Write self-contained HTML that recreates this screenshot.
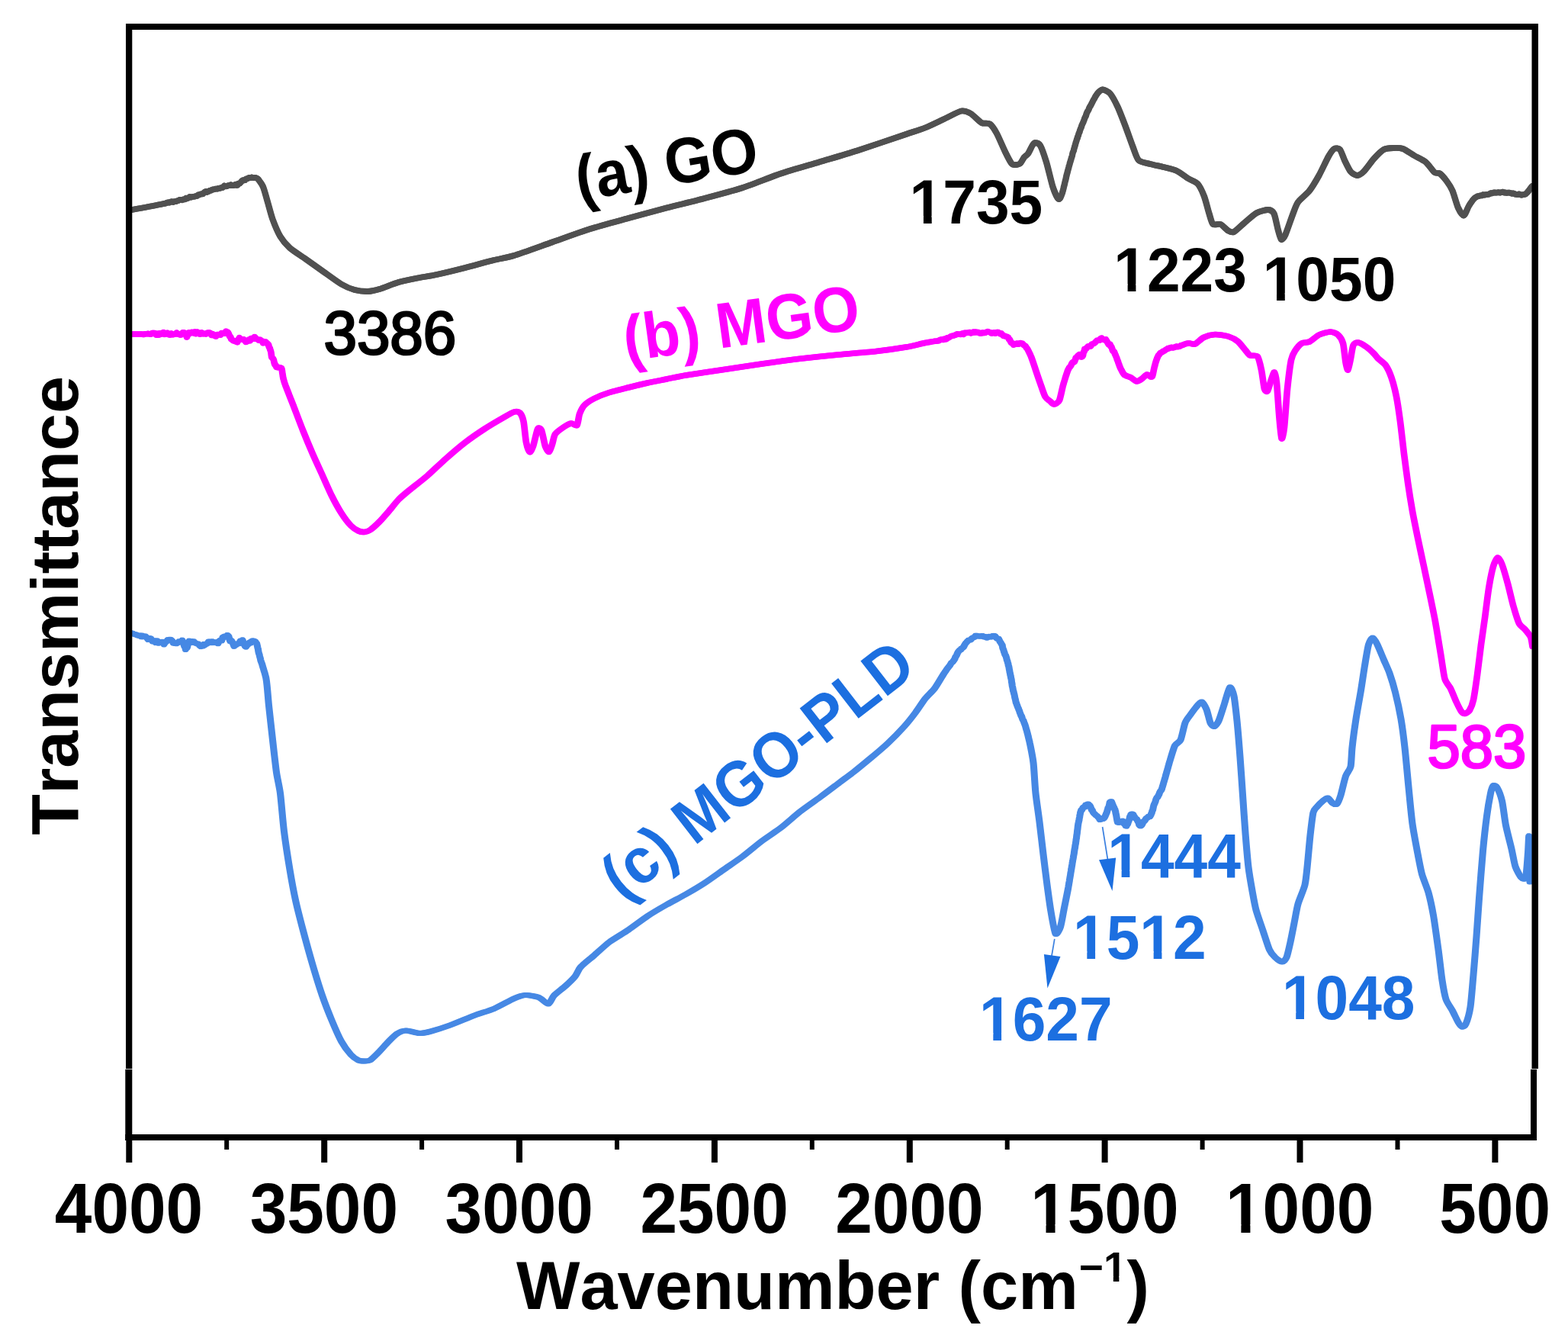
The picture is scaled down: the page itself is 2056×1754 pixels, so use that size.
<!DOCTYPE html>
<html lang="en"><head><meta charset="utf-8"><title>FTIR spectra</title>
<style>html,body{margin:0;padding:0;background:#fff;}body{width:2056px;height:1754px;overflow:hidden;}svg{display:block;}text{font-family:'Liberation Sans', Arial, Helvetica, sans-serif;font-kerning:none;}</style>
</head><body>
<svg width="2056" height="1754" viewBox="0 0 2056 1754">
<rect x="0" y="0" width="2056" height="1754" fill="#ffffff"/>
<defs><clipPath id="plot"><rect x="172.3" y="39.0" width="1837.2" height="1448.0"/></clipPath></defs>
<g clip-path="url(#plot)" fill="none" stroke-linejoin="round" stroke-linecap="round">
<path transform="translate(-0.3 0)" d="M173.0 275.0C177.4 274.2 201.4 269.8 210.0 268.0L211.2 267.8L212.5 267.5L213.9 267.2L215.3 266.9L216.9 266.6L218.5 266.0L220.1 265.3L221.8 265.6L223.5 264.8L225.3 264.2L227.0 265.0L228.8 264.1L230.5 264.2L232.3 263.3L234.0 263.0L235.6 261.8L237.2 262.0L238.7 262.3L240.2 261.5L241.5 261.4L242.8 261.1L244.0 259.7L245.0 260.3L246.2 259.9L247.6 259.0L249.0 257.9L250.4 258.7L252.0 258.0L253.5 257.8L255.1 257.7L256.8 257.0L258.4 256.8L260.0 255.4L261.6 255.3L263.2 254.3L264.7 254.4L266.2 254.1L267.7 252.2L269.0 251.4L270.3 250.9L271.4 251.9L272.5 251.1L273.7 250.9L275.0 249.9L276.5 249.6L278.0 248.9L279.7 248.3L281.3 248.1L283.1 247.6L284.8 247.7L286.5 246.9L288.2 246.8L289.9 246.2L291.5 246.0L292.9 245.0L294.3 243.5L295.5 244.0L296.6 244.3L297.5 244.1L299.2 243.2L301.0 243.2L302.7 242.3L304.4 243.2L306.0 243.1L307.5 242.5L308.9 241.8L310.0 242.8L311.3 242.9L312.7 240.7L314.3 240.4L315.9 238.8L317.4 237.0L318.8 236.1L320.0 236.3L321.3 236.2L322.9 234.3L324.7 234.2L326.6 232.8L328.3 233.2L329.9 232.5L331.0 232.9L332.7 233.1L334.4 232.8L336.1 233.4L337.5 234.0L338.2 234.6L339.2 235.8L340.2 237.2L341.3 238.7L342.4 240.3L343.4 241.9L344.3 243.5L345.0 245.0C346.6 248.7 349.5 259.9 351.0 265.0C352.5 270.1 355.5 282.1 357.5 287.5C359.5 292.9 364.8 305.5 367.5 310.0C370.2 314.5 376.1 321.5 380.0 325.0C383.9 328.5 394.9 335.4 400.0 339.0C405.1 342.6 416.8 351.0 422.5 355.0C428.2 359.0 442.4 369.5 447.5 372.5C452.6 375.5 460.8 378.9 465.0 380.0C469.2 381.1 478.6 382.1 482.5 382.0C486.4 381.9 492.7 380.4 497.5 379.0C502.3 377.6 516.5 371.7 522.5 370.0C528.5 368.3 541.5 365.7 547.5 364.5C553.5 363.3 565.0 361.6 572.5 360.0C580.0 358.4 601.0 353.3 610.0 351.0C619.0 348.7 639.8 342.9 647.5 341.0C655.2 339.1 664.8 337.8 674.0 335.0C683.2 332.2 712.0 321.7 724.0 317.5C736.0 313.3 762.0 303.8 774.0 300.0C786.0 296.2 812.0 289.3 824.0 286.0C836.0 282.7 862.0 275.6 874.0 272.5C886.0 269.4 912.0 263.2 924.0 260.0C936.0 256.8 962.0 249.9 974.0 246.0C986.0 242.1 1012.0 231.5 1024.0 227.5C1036.0 223.5 1062.0 216.1 1074.0 212.5C1086.0 208.9 1110.3 201.9 1124.0 197.5C1137.7 193.1 1177.3 179.6 1188.0 176.0C1198.7 172.4 1207.0 169.9 1213.0 167.5C1219.0 165.1 1232.3 158.6 1238.0 156.0C1243.7 153.4 1256.3 146.3 1260.5 145.5C1264.7 144.7 1269.8 147.1 1273.0 149.0C1276.2 150.9 1284.0 159.4 1287.0 161.0C1290.0 162.6 1295.6 160.8 1298.0 162.5C1300.4 164.2 1304.6 170.6 1307.0 175.0C1309.4 179.4 1315.7 194.3 1318.0 199.0C1320.3 203.7 1324.8 212.5 1326.5 214.5C1328.2 216.5 1330.6 216.1 1332.0 216.0C1333.4 215.9 1336.7 215.2 1338.0 214.0C1339.3 212.8 1341.8 207.5 1343.0 206.0C1344.2 204.5 1346.7 203.3 1348.0 201.5C1349.3 199.7 1352.4 192.7 1353.5 191.0C1354.6 189.3 1355.7 187.2 1357.0 187.2C1358.3 187.2 1362.2 187.7 1364.0 190.7C1365.8 193.7 1370.0 206.0 1372.0 212.5C1374.0 219.0 1378.6 239.2 1380.5 245.0C1382.4 250.8 1386.5 260.1 1388.0 261.0C1389.5 261.9 1391.5 257.1 1393.0 252.5L1393.2 251.7L1393.5 250.8L1393.8 249.7L1394.1 248.4L1394.5 247.1L1394.8 245.6L1395.2 244.1L1395.6 242.5L1396.0 240.8L1396.4 239.0L1396.8 237.3L1397.3 235.6L1397.7 233.8L1398.1 231.9L1398.5 230.3L1398.9 228.4L1399.4 226.8L1399.7 225.5L1400.1 223.9L1400.5 222.6L1400.8 221.3L1401.1 220.3L1401.4 219.3L1401.7 217.7L1402.1 216.7L1402.5 215.4L1402.9 213.5L1403.4 212.3L1403.8 210.7L1404.3 209.2L1404.8 207.3L1405.3 205.9L1405.8 204.3L1406.3 201.8L1406.8 199.8L1407.3 198.7L1407.8 197.6L1408.3 195.2L1408.8 193.6L1409.3 192.1L1409.8 190.2L1410.2 188.6L1410.7 187.0L1411.1 185.6L1411.5 184.6L1411.9 183.0L1412.3 181.9L1412.7 181.2L1413.0 179.5L1413.4 178.7L1413.9 177.7L1414.3 176.0L1414.8 174.3L1415.4 173.4L1415.9 171.5L1416.5 169.7L1417.1 168.3L1417.7 167.1L1418.3 164.9L1418.9 163.3L1419.6 161.8L1420.2 160.8L1420.8 159.0L1421.4 157.8L1422.0 155.7L1422.6 154.2L1423.1 153.2L1423.7 152.3L1424.2 150.7L1424.6 149.2L1425.1 147.9L1425.5 147.3L1426.1 145.8L1426.7 145.1L1427.4 143.9L1428.2 141.7L1429.0 140.0L1429.8 138.9L1430.7 137.2L1431.5 135.7L1432.4 133.8L1433.3 132.0L1434.1 130.5L1434.9 129.3L1435.6 127.9L1436.3 126.6L1437.0 125.6L1437.5 124.7L1438.0 124.0L1439.2 122.3L1440.5 120.8L1441.9 119.5L1443.2 118.5L1444.4 117.8L1445.5 117.5C1447.6 117.3 1453.1 119.8 1455.5 122.5C1457.9 125.2 1463.1 134.9 1465.5 140.0C1467.9 145.1 1473.1 158.7 1475.5 165.0C1477.9 171.3 1483.4 187.1 1485.5 192.5C1487.6 197.9 1490.3 207.3 1493.0 210.0C1495.7 212.7 1504.1 213.9 1508.0 215.0C1511.9 216.1 1521.3 217.9 1525.5 219.0C1529.7 220.1 1539.1 222.2 1543.0 224.0C1546.9 225.8 1554.7 232.0 1558.0 234.0C1561.3 236.0 1568.0 238.2 1570.5 241.0C1573.0 243.8 1577.2 252.8 1579.0 257.5C1580.8 262.2 1584.1 275.6 1585.5 280.0C1586.9 284.4 1588.7 292.3 1590.5 294.0C1592.3 295.7 1598.1 293.0 1600.5 294.0C1602.9 295.0 1608.4 301.3 1610.5 302.5C1612.6 303.7 1615.3 305.4 1618.0 304.0C1620.7 302.6 1629.4 294.0 1633.0 291.0C1636.6 288.0 1644.4 280.9 1648.0 279.0C1651.6 277.1 1660.3 274.9 1663.0 275.0C1665.7 275.1 1669.0 277.0 1670.5 280.0C1672.0 283.0 1674.4 295.9 1675.5 300.0C1676.6 304.1 1678.8 313.1 1680.0 314.0C1681.2 314.9 1683.6 311.6 1685.5 307.5C1687.4 303.4 1693.5 285.1 1695.5 280.0C1697.5 274.9 1699.4 268.6 1702.0 265.0C1704.6 261.4 1713.7 254.2 1717.0 250.0C1720.3 245.8 1726.5 235.4 1729.5 230.0C1732.5 224.6 1739.6 209.2 1742.0 205.0C1744.4 200.8 1747.7 196.1 1749.5 195.0C1751.3 193.9 1755.4 194.2 1757.0 196.0C1758.6 197.8 1761.3 206.5 1763.0 210.0C1764.7 213.5 1769.0 222.6 1771.0 225.0C1773.0 227.4 1777.5 230.0 1779.5 230.0C1781.5 230.0 1785.3 227.7 1788.0 225.0C1790.7 222.3 1798.8 211.0 1802.0 207.5C1805.2 204.0 1811.5 197.6 1814.5 196.0C1817.5 194.4 1824.0 194.1 1827.0 194.0C1830.0 193.9 1836.2 193.8 1839.5 195.0C1842.8 196.2 1850.9 201.9 1854.5 204.0C1858.1 206.1 1866.3 209.9 1869.5 212.5C1872.7 215.1 1878.8 224.2 1881.0 226.0C1883.2 227.8 1886.1 226.1 1888.0 227.5C1889.9 228.9 1895.0 234.8 1897.0 237.5C1899.0 240.2 1902.7 245.8 1904.5 250.0C1906.3 254.2 1910.2 268.6 1912.0 272.5C1913.8 276.4 1917.8 282.8 1919.5 282.5C1921.2 282.2 1924.2 272.8 1926.0 270.0L1926.7 268.9L1927.4 267.7L1928.3 266.3L1929.3 264.9L1930.3 263.5L1931.3 262.1L1932.4 260.9L1933.4 259.8L1934.5 258.9L1935.4 258.4L1936.6 257.8L1938.0 257.1L1939.5 256.9L1941.1 256.3L1942.8 256.4L1944.6 255.2L1946.3 255.6L1947.9 255.2L1949.5 255.1L1950.8 254.9L1952.0 254.7L1953.3 254.1L1954.7 253.1L1956.3 253.4L1958.1 252.7L1959.8 252.4L1961.7 252.6L1963.4 252.4L1965.2 252.1L1966.8 252.6L1968.2 252.3L1969.5 251.9L1970.8 251.7L1972.3 252.5L1973.9 252.4L1975.7 252.9L1977.5 252.7L1979.4 252.6L1981.2 253.2L1982.9 253.8L1984.5 253.4L1985.9 254.1L1987.0 254.6L1988.5 254.8L1990.1 255.1L1991.8 254.4L1993.6 255.1L1995.3 255.7L1996.9 255.1L1998.4 255.1L1999.5 254.8L2000.5 254.3L2001.6 253.2L2002.9 251.9L2004.2 250.4L2005.4 248.7L2006.6 247.2L2007.6 245.8L2008.5 244.7L2009.0 244.0" stroke="#505050" stroke-width="7.8"/>
<path transform="translate(0.3 0)" d="M173.0 275.0C177.4 274.2 201.4 269.8 210.0 268.0L211.2 267.8L212.5 267.5L213.9 267.2L215.3 266.9L216.9 266.6L218.5 266.0L220.1 265.3L221.8 265.6L223.5 264.8L225.3 264.2L227.0 265.0L228.8 264.1L230.5 264.2L232.3 263.3L234.0 263.0L235.6 261.8L237.2 262.0L238.7 262.3L240.2 261.5L241.5 261.4L242.8 261.1L244.0 259.7L245.0 260.3L246.2 259.9L247.6 259.0L249.0 257.9L250.4 258.7L252.0 258.0L253.5 257.8L255.1 257.7L256.8 257.0L258.4 256.8L260.0 255.4L261.6 255.3L263.2 254.3L264.7 254.4L266.2 254.1L267.7 252.2L269.0 251.4L270.3 250.9L271.4 251.9L272.5 251.1L273.7 250.9L275.0 249.9L276.5 249.6L278.0 248.9L279.7 248.3L281.3 248.1L283.1 247.6L284.8 247.7L286.5 246.9L288.2 246.8L289.9 246.2L291.5 246.0L292.9 245.0L294.3 243.5L295.5 244.0L296.6 244.3L297.5 244.1L299.2 243.2L301.0 243.2L302.7 242.3L304.4 243.2L306.0 243.1L307.5 242.5L308.9 241.8L310.0 242.8L311.3 242.9L312.7 240.7L314.3 240.4L315.9 238.8L317.4 237.0L318.8 236.1L320.0 236.3L321.3 236.2L322.9 234.3L324.7 234.2L326.6 232.8L328.3 233.2L329.9 232.5L331.0 232.9L332.7 233.1L334.4 232.8L336.1 233.4L337.5 234.0L338.2 234.6L339.2 235.8L340.2 237.2L341.3 238.7L342.4 240.3L343.4 241.9L344.3 243.5L345.0 245.0C346.6 248.7 349.5 259.9 351.0 265.0C352.5 270.1 355.5 282.1 357.5 287.5C359.5 292.9 364.8 305.5 367.5 310.0C370.2 314.5 376.1 321.5 380.0 325.0C383.9 328.5 394.9 335.4 400.0 339.0C405.1 342.6 416.8 351.0 422.5 355.0C428.2 359.0 442.4 369.5 447.5 372.5C452.6 375.5 460.8 378.9 465.0 380.0C469.2 381.1 478.6 382.1 482.5 382.0C486.4 381.9 492.7 380.4 497.5 379.0C502.3 377.6 516.5 371.7 522.5 370.0C528.5 368.3 541.5 365.7 547.5 364.5C553.5 363.3 565.0 361.6 572.5 360.0C580.0 358.4 601.0 353.3 610.0 351.0C619.0 348.7 639.8 342.9 647.5 341.0C655.2 339.1 664.8 337.8 674.0 335.0C683.2 332.2 712.0 321.7 724.0 317.5C736.0 313.3 762.0 303.8 774.0 300.0C786.0 296.2 812.0 289.3 824.0 286.0C836.0 282.7 862.0 275.6 874.0 272.5C886.0 269.4 912.0 263.2 924.0 260.0C936.0 256.8 962.0 249.9 974.0 246.0C986.0 242.1 1012.0 231.5 1024.0 227.5C1036.0 223.5 1062.0 216.1 1074.0 212.5C1086.0 208.9 1110.3 201.9 1124.0 197.5C1137.7 193.1 1177.3 179.6 1188.0 176.0C1198.7 172.4 1207.0 169.9 1213.0 167.5C1219.0 165.1 1232.3 158.6 1238.0 156.0C1243.7 153.4 1256.3 146.3 1260.5 145.5C1264.7 144.7 1269.8 147.1 1273.0 149.0C1276.2 150.9 1284.0 159.4 1287.0 161.0C1290.0 162.6 1295.6 160.8 1298.0 162.5C1300.4 164.2 1304.6 170.6 1307.0 175.0C1309.4 179.4 1315.7 194.3 1318.0 199.0C1320.3 203.7 1324.8 212.5 1326.5 214.5C1328.2 216.5 1330.6 216.1 1332.0 216.0C1333.4 215.9 1336.7 215.2 1338.0 214.0C1339.3 212.8 1341.8 207.5 1343.0 206.0C1344.2 204.5 1346.7 203.3 1348.0 201.5C1349.3 199.7 1352.4 192.7 1353.5 191.0C1354.6 189.3 1355.7 187.2 1357.0 187.2C1358.3 187.2 1362.2 187.7 1364.0 190.7C1365.8 193.7 1370.0 206.0 1372.0 212.5C1374.0 219.0 1378.6 239.2 1380.5 245.0C1382.4 250.8 1386.5 260.1 1388.0 261.0C1389.5 261.9 1391.5 257.1 1393.0 252.5L1393.2 251.7L1393.5 250.8L1393.8 249.7L1394.1 248.4L1394.5 247.1L1394.8 245.6L1395.2 244.1L1395.6 242.5L1396.0 240.8L1396.4 239.0L1396.8 237.3L1397.3 235.6L1397.7 233.8L1398.1 231.9L1398.5 230.3L1398.9 228.4L1399.4 226.8L1399.7 225.5L1400.1 223.9L1400.5 222.6L1400.8 221.3L1401.1 220.3L1401.4 219.3L1401.7 217.7L1402.1 216.7L1402.5 215.4L1402.9 213.5L1403.4 212.3L1403.8 210.7L1404.3 209.2L1404.8 207.3L1405.3 205.9L1405.8 204.3L1406.3 201.8L1406.8 199.8L1407.3 198.7L1407.8 197.6L1408.3 195.2L1408.8 193.6L1409.3 192.1L1409.8 190.2L1410.2 188.6L1410.7 187.0L1411.1 185.6L1411.5 184.6L1411.9 183.0L1412.3 181.9L1412.7 181.2L1413.0 179.5L1413.4 178.7L1413.9 177.7L1414.3 176.0L1414.8 174.3L1415.4 173.4L1415.9 171.5L1416.5 169.7L1417.1 168.3L1417.7 167.1L1418.3 164.9L1418.9 163.3L1419.6 161.8L1420.2 160.8L1420.8 159.0L1421.4 157.8L1422.0 155.7L1422.6 154.2L1423.1 153.2L1423.7 152.3L1424.2 150.7L1424.6 149.2L1425.1 147.9L1425.5 147.3L1426.1 145.8L1426.7 145.1L1427.4 143.9L1428.2 141.7L1429.0 140.0L1429.8 138.9L1430.7 137.2L1431.5 135.7L1432.4 133.8L1433.3 132.0L1434.1 130.5L1434.9 129.3L1435.6 127.9L1436.3 126.6L1437.0 125.6L1437.5 124.7L1438.0 124.0L1439.2 122.3L1440.5 120.8L1441.9 119.5L1443.2 118.5L1444.4 117.8L1445.5 117.5C1447.6 117.3 1453.1 119.8 1455.5 122.5C1457.9 125.2 1463.1 134.9 1465.5 140.0C1467.9 145.1 1473.1 158.7 1475.5 165.0C1477.9 171.3 1483.4 187.1 1485.5 192.5C1487.6 197.9 1490.3 207.3 1493.0 210.0C1495.7 212.7 1504.1 213.9 1508.0 215.0C1511.9 216.1 1521.3 217.9 1525.5 219.0C1529.7 220.1 1539.1 222.2 1543.0 224.0C1546.9 225.8 1554.7 232.0 1558.0 234.0C1561.3 236.0 1568.0 238.2 1570.5 241.0C1573.0 243.8 1577.2 252.8 1579.0 257.5C1580.8 262.2 1584.1 275.6 1585.5 280.0C1586.9 284.4 1588.7 292.3 1590.5 294.0C1592.3 295.7 1598.1 293.0 1600.5 294.0C1602.9 295.0 1608.4 301.3 1610.5 302.5C1612.6 303.7 1615.3 305.4 1618.0 304.0C1620.7 302.6 1629.4 294.0 1633.0 291.0C1636.6 288.0 1644.4 280.9 1648.0 279.0C1651.6 277.1 1660.3 274.9 1663.0 275.0C1665.7 275.1 1669.0 277.0 1670.5 280.0C1672.0 283.0 1674.4 295.9 1675.5 300.0C1676.6 304.1 1678.8 313.1 1680.0 314.0C1681.2 314.9 1683.6 311.6 1685.5 307.5C1687.4 303.4 1693.5 285.1 1695.5 280.0C1697.5 274.9 1699.4 268.6 1702.0 265.0C1704.6 261.4 1713.7 254.2 1717.0 250.0C1720.3 245.8 1726.5 235.4 1729.5 230.0C1732.5 224.6 1739.6 209.2 1742.0 205.0C1744.4 200.8 1747.7 196.1 1749.5 195.0C1751.3 193.9 1755.4 194.2 1757.0 196.0C1758.6 197.8 1761.3 206.5 1763.0 210.0C1764.7 213.5 1769.0 222.6 1771.0 225.0C1773.0 227.4 1777.5 230.0 1779.5 230.0C1781.5 230.0 1785.3 227.7 1788.0 225.0C1790.7 222.3 1798.8 211.0 1802.0 207.5C1805.2 204.0 1811.5 197.6 1814.5 196.0C1817.5 194.4 1824.0 194.1 1827.0 194.0C1830.0 193.9 1836.2 193.8 1839.5 195.0C1842.8 196.2 1850.9 201.9 1854.5 204.0C1858.1 206.1 1866.3 209.9 1869.5 212.5C1872.7 215.1 1878.8 224.2 1881.0 226.0C1883.2 227.8 1886.1 226.1 1888.0 227.5C1889.9 228.9 1895.0 234.8 1897.0 237.5C1899.0 240.2 1902.7 245.8 1904.5 250.0C1906.3 254.2 1910.2 268.6 1912.0 272.5C1913.8 276.4 1917.8 282.8 1919.5 282.5C1921.2 282.2 1924.2 272.8 1926.0 270.0L1926.7 268.9L1927.4 267.7L1928.3 266.3L1929.3 264.9L1930.3 263.5L1931.3 262.1L1932.4 260.9L1933.4 259.8L1934.5 258.9L1935.4 258.4L1936.6 257.8L1938.0 257.1L1939.5 256.9L1941.1 256.3L1942.8 256.4L1944.6 255.2L1946.3 255.6L1947.9 255.2L1949.5 255.1L1950.8 254.9L1952.0 254.7L1953.3 254.1L1954.7 253.1L1956.3 253.4L1958.1 252.7L1959.8 252.4L1961.7 252.6L1963.4 252.4L1965.2 252.1L1966.8 252.6L1968.2 252.3L1969.5 251.9L1970.8 251.7L1972.3 252.5L1973.9 252.4L1975.7 252.9L1977.5 252.7L1979.4 252.6L1981.2 253.2L1982.9 253.8L1984.5 253.4L1985.9 254.1L1987.0 254.6L1988.5 254.8L1990.1 255.1L1991.8 254.4L1993.6 255.1L1995.3 255.7L1996.9 255.1L1998.4 255.1L1999.5 254.8L2000.5 254.3L2001.6 253.2L2002.9 251.9L2004.2 250.4L2005.4 248.7L2006.6 247.2L2007.6 245.8L2008.5 244.7L2009.0 244.0" stroke="#505050" stroke-width="7.8"/>
<path transform="translate(-0.6 0)" d="M173.0 438.0L173.7 438.0L174.5 438.0L175.5 438.0L176.7 438.0L178.1 438.0L179.5 438.0L181.1 438.0L182.8 438.0L184.5 438.0L186.4 438.1L188.2 438.5L190.1 437.7L192.1 437.8L194.0 437.3L195.9 437.9L197.8 438.2L199.7 436.5L201.5 436.5L203.2 436.8L204.8 439.0L206.3 439.3L207.7 437.3L208.9 438.8L210.0 437.0L211.3 438.0L212.7 436.7L214.2 435.8L215.8 438.3L217.5 436.9L219.2 436.4L221.0 438.7L222.8 439.1L224.6 437.2L226.4 438.8L228.2 437.9L229.9 437.9L231.6 436.3L233.2 438.2L234.7 438.0L236.0 438.9L237.3 438.9L238.4 436.9L239.3 436.5L240.0 435.7L242.4 436.4L243.6 437.7L244.3 439.9L245.0 441.9L245.5 439.6L245.9 439.9L246.5 437.7L247.8 435.9L250.0 436.8L250.7 436.2L251.7 435.4L252.8 435.8L254.1 436.7L255.5 434.9L257.1 437.5L258.8 435.3L260.5 437.1L262.4 438.2L264.3 435.9L266.2 437.8L268.1 437.2L270.1 437.9L272.0 436.3L273.8 436.0L275.7 436.5L277.4 439.4L279.0 437.9L280.5 439.4L281.9 440.5L283.1 441.0L284.2 439.2L285.0 438.6L287.1 438.7L289.0 439.2L290.7 436.5L292.4 437.3L293.9 437.2L295.2 437.2L296.4 434.3L297.5 436.7L298.3 435.1L299.2 436.2L300.2 438.4L301.2 441.3L302.2 441.4L303.2 444.6L304.2 445.4L305.2 445.9L306.1 446.8L306.9 447.1L307.5 447.1L308.6 447.1L309.9 448.2L311.3 448.6L312.6 445.0L313.9 442.8L315.0 445.0L316.2 444.7L317.7 444.7L319.3 444.8L321.0 446.6L322.6 448.4L324.0 447.7L325.1 447.0L326.4 445.1L327.9 446.6L329.5 443.6L331.0 443.5L332.6 444.2L333.9 441.7L335.0 443.0L336.2 444.6L337.7 444.8L339.4 446.2L341.1 445.3L342.6 446.9L344.0 447.0L345.0 449.7L346.5 448.5L348.2 448.0L349.7 449.6L351.0 450.7L351.4 451.9L351.8 451.4L352.2 452.3L352.7 454.5L353.2 455.5L353.8 456.5L354.3 458.5L354.8 459.6L355.4 461.9L355.9 466.0L356.3 468.3L356.8 468.9L357.2 469.4L357.5 469.6L358.1 470.1L358.9 472.0L359.6 475.5L360.4 478.0L361.1 478.0L361.9 480.1L362.5 481.3L363.9 481.7L365.8 481.6L367.7 482.0L369.0 482.5L369.3 483.6L369.6 484.2L369.8 485.7L370.1 487.6L370.3 489.4L370.6 490.7L370.9 493.2L371.2 494.9L371.6 496.7L372.0 497.9L372.5 499.9L372.8 500.7L373.1 501.9L373.5 502.9L374.0 504.3L374.4 505.5L375.0 506.9L375.5 508.3L376.1 509.9L376.7 511.5L377.4 513.1L378.0 514.7L378.7 516.4L379.3 518.1L380.0 519.8L380.6 521.4L381.3 523.0L381.9 524.6L382.5 526.1L383.1 527.6L383.6 528.9L384.1 530.2L384.6 531.4L385.0 532.5C388.0 540.3 394.5 557.5 397.5 565.0C400.5 572.5 407.0 588.1 410.0 595.0C413.0 601.9 419.5 615.9 422.5 622.5C425.5 629.1 432.0 644.0 435.0 650.0C438.0 656.0 444.5 667.8 447.5 672.5C450.5 677.2 457.3 686.2 460.0 689.0C462.7 691.8 467.9 695.0 470.0 696.0C472.1 697.0 475.7 697.6 477.5 697.5C479.3 697.4 482.6 696.6 485.0 695.0C487.4 693.4 494.5 687.0 497.5 684.0C500.5 681.0 507.0 673.5 510.0 670.0C513.0 666.5 519.5 658.1 522.5 655.0C525.5 651.9 530.5 647.7 535.0 644.0C539.5 640.3 554.0 629.2 560.0 624.0C566.0 618.8 579.0 606.3 585.0 601.0C591.0 595.7 604.0 584.6 610.0 580.0C616.0 575.4 629.0 566.4 635.0 562.5C641.0 558.6 655.3 550.2 660.0 547.5C664.7 544.8 671.4 540.8 674.0 540.0C676.6 539.2 680.0 539.5 681.5 541.0C683.0 542.5 685.5 547.8 686.5 552.5C687.5 557.2 689.0 575.2 690.0 580.0C691.0 584.8 693.4 591.9 694.5 592.5C695.6 593.1 697.7 588.6 699.0 585.0C700.3 581.4 703.7 565.0 705.0 562.5C706.3 560.0 708.8 561.3 710.0 564.0C711.2 566.7 713.8 581.6 715.0 585.0C716.2 588.4 718.9 592.8 720.0 592.5C721.1 592.2 723.0 585.3 724.0 582.5C725.0 579.7 726.2 571.7 728.0 569.0C729.8 566.3 736.5 561.7 739.0 560.0C741.5 558.3 746.9 555.3 749.0 555.0C751.1 554.7 755.2 559.0 756.5 557.5C757.8 556.0 758.8 545.7 760.0 542.5C761.2 539.3 764.2 533.4 766.5 531.0C768.8 528.6 775.1 524.5 779.0 522.5C782.9 520.5 793.6 516.2 799.0 514.5C804.4 512.8 818.0 509.5 824.0 508.0C830.0 506.5 843.0 503.3 849.0 502.0C855.0 500.7 868.0 498.2 874.0 497.0C880.0 495.8 890.0 493.5 899.0 492.0C908.0 490.5 937.0 486.3 949.0 484.5C961.0 482.7 987.0 478.7 999.0 477.0C1011.0 475.3 1037.0 471.7 1049.0 470.3C1061.0 468.9 1087.0 466.2 1099.0 465.0C1111.0 463.8 1138.3 461.7 1149.0 460.5C1159.7 459.3 1180.3 456.3 1188.0 455.0C1195.7 453.7 1207.0 450.7 1213.0 449.5L1214.2 449.3L1215.6 449.0L1217.0 448.8L1218.6 448.5L1220.3 448.2L1222.0 447.9L1223.8 447.6L1225.6 447.3L1227.4 447.2L1229.2 446.9L1230.9 446.8L1232.5 445.5L1234.1 444.9L1235.5 445.0L1236.8 445.5L1238.0 444.3L1239.2 444.9L1240.6 444.7L1242.0 442.8L1243.6 442.9L1245.2 441.9L1246.9 440.8L1248.6 440.2L1250.3 440.1L1252.0 439.4L1253.7 438.8L1255.3 437.8L1256.7 438.3L1258.1 438.1L1259.4 438.4L1260.5 438.3L1261.8 437.2L1263.2 438.4L1264.7 436.3L1266.3 436.5L1268.0 436.2L1269.7 436.3L1271.5 435.5L1273.2 436.9L1274.9 436.2L1276.5 435.0L1277.9 436.0L1279.3 435.0L1280.5 435.7L1281.7 435.4L1283.1 435.9L1284.7 437.0L1286.4 437.0L1288.1 435.9L1289.9 436.5L1291.7 436.2L1293.5 435.4L1295.2 434.5L1296.8 435.3L1298.2 435.6L1299.5 436.7L1300.5 437.1L1302.0 436.5L1303.7 435.8L1305.5 437.1L1307.2 435.5L1308.9 435.5L1310.5 436.9L1311.8 437.8L1313.0 437.1L1314.3 438.6L1315.8 440.4L1317.5 440.3L1319.1 441.1L1320.7 441.5L1322.0 442.4L1323.0 444.9L1324.0 445.0L1325.0 447.6L1326.0 449.3L1327.1 450.0L1328.1 450.0L1329.0 452.1L1330.2 451.5L1331.7 450.9L1333.4 450.1L1335.2 451.3L1336.8 450.3L1338.0 449.6L1339.1 450.2L1340.5 450.2L1341.9 451.9L1343.2 452.8L1344.5 453.7L1345.5 455.2L1346.1 456.2L1346.8 456.8L1347.6 458.3L1348.4 459.8L1349.2 461.6L1350.0 463.1L1350.8 464.7L1351.4 466.2L1352.0 467.5C1353.5 471.1 1356.6 480.8 1358.0 485.0C1359.4 489.2 1362.5 498.3 1364.0 502.5C1365.5 506.7 1368.9 517.2 1370.5 520.0C1372.1 522.8 1375.6 524.8 1377.0 526.0C1378.4 527.2 1380.6 530.1 1382.0 530.0C1383.4 529.9 1387.6 528.0 1389.0 525.0C1390.4 522.0 1392.6 509.8 1394.0 505.0L1394.3 503.9L1394.7 502.6L1395.1 501.1L1395.6 499.6L1396.1 498.0L1396.6 496.3L1397.1 494.7L1397.7 492.7L1398.2 491.4L1398.7 489.6L1399.2 488.3L1399.7 486.8L1400.1 485.6L1400.5 484.9L1401.2 483.5L1402.1 481.8L1403.1 480.9L1404.2 479.4L1405.3 476.6L1406.3 475.2L1407.2 474.5L1408.0 475.0L1408.8 474.3L1409.7 472.1L1410.8 468.8L1411.9 468.7L1413.0 466.8L1414.0 465.7L1414.9 465.2L1415.5 464.6L1416.8 464.9L1418.0 468.0L1419.0 467.6L1419.4 466.5L1419.9 466.4L1420.4 463.3L1421.0 461.2L1421.6 460.9L1422.3 457.6L1423.0 458.1L1423.9 457.4L1425.2 455.7L1426.8 454.0L1428.5 454.2L1430.1 454.0L1431.7 451.2L1433.0 450.8L1434.1 450.4L1435.4 449.5L1436.9 448.0L1438.5 446.3L1440.1 446.3L1441.7 446.3L1443.2 443.8L1444.5 443.1L1445.5 444.5L1446.9 445.3L1448.4 445.8L1450.0 445.0L1451.5 447.6L1452.9 450.2L1454.0 451.9L1454.7 452.1L1455.4 451.2L1456.3 454.1L1457.2 454.4L1458.1 456.8L1459.0 459.5L1459.9 460.8L1460.7 460.9L1461.4 462.2L1462.0 464.6L1462.5 464.7L1463.0 466.5L1463.6 467.8L1464.2 469.1L1464.8 471.3L1465.4 472.5L1466.0 474.1L1466.6 476.0L1467.1 477.3L1467.6 478.6L1468.0 479.9L1468.6 481.4L1469.3 482.9L1470.1 484.4L1470.9 486.0L1471.7 487.6L1472.5 489.0L1473.3 490.1L1474.0 491.0C1475.8 492.8 1481.0 493.9 1483.0 495.0C1485.0 496.1 1488.7 499.9 1490.5 500.0C1492.3 500.1 1496.4 497.1 1498.0 496.0C1499.6 494.9 1502.5 491.2 1504.0 491.0L1505.5 491.6L1507.4 492.9L1509.2 494.1L1510.5 494.0L1510.9 493.3L1511.3 492.1L1511.7 490.6L1512.1 488.8L1512.5 486.8L1512.9 484.8L1513.3 483.0L1513.7 481.2L1514.0 480.1L1514.4 478.8L1514.8 477.0L1515.3 475.3L1515.9 473.5L1516.4 471.9L1517.1 469.9L1517.7 468.6L1518.3 467.3L1519.0 465.7L1519.8 465.1L1520.9 463.5L1522.2 462.2L1523.6 461.7L1525.0 460.4L1526.5 460.1L1528.0 458.9L1529.3 457.9L1530.5 457.8L1531.6 456.6L1533.0 456.8L1534.5 455.7L1536.2 455.3L1538.0 455.9L1539.7 455.6L1541.4 454.6L1543.0 454.0L1544.4 454.7L1545.5 454.4L1546.9 454.1L1548.5 452.8L1550.2 452.5L1552.0 451.7L1553.8 451.0L1555.4 450.5L1556.9 450.2L1558.0 450.0L1559.4 450.0L1560.9 450.3L1562.6 450.7L1564.2 451.1L1565.7 451.2L1567.0 451.0C1569.4 450.1 1574.9 444.0 1578.0 442.5C1581.1 441.0 1589.1 438.7 1593.0 438.5C1596.9 438.3 1606.9 439.9 1610.5 441.0C1614.1 442.1 1620.3 445.3 1623.0 447.5C1625.7 449.7 1631.1 456.8 1633.0 459.0C1634.9 461.2 1637.1 465.0 1639.0 466.0C1640.9 467.0 1647.2 465.2 1649.0 467.5C1650.8 469.8 1652.9 479.9 1654.0 485.0C1655.1 490.1 1657.0 506.7 1658.0 510.0C1659.0 513.3 1660.9 514.0 1662.0 512.5C1663.1 511.0 1665.9 500.4 1667.0 497.5C1668.1 494.6 1670.2 487.5 1671.0 488.0C1671.8 488.5 1673.2 494.8 1674.0 502.0C1674.8 509.2 1676.7 539.2 1677.5 548.0C1678.3 556.8 1679.7 573.6 1680.5 575.0C1681.3 576.4 1683.1 567.8 1684.0 560.0C1684.9 552.2 1686.9 520.6 1688.0 510.0C1689.1 499.4 1691.8 478.0 1693.0 472.0C1694.2 466.0 1696.3 462.6 1698.0 460.0C1699.7 457.4 1704.7 451.4 1707.0 450.0C1709.3 448.6 1714.3 449.3 1717.0 448.0C1719.7 446.7 1726.2 440.6 1729.5 439.0C1732.8 437.4 1741.5 435.0 1744.5 435.0C1747.5 435.0 1752.5 437.2 1754.5 439.0C1756.5 440.8 1759.8 445.7 1761.0 450.0C1762.2 454.3 1763.7 470.8 1764.5 475.0C1765.3 479.2 1766.7 485.6 1767.5 485.0C1768.3 484.4 1770.2 473.9 1771.0 470.0C1771.8 466.1 1773.3 455.0 1774.5 452.5C1775.7 450.0 1778.9 448.7 1781.0 449.0C1783.1 449.3 1789.5 453.2 1792.0 455.0C1794.5 456.8 1800.2 462.2 1802.0 464.0C1803.8 465.8 1805.2 468.2 1807.0 470.0C1808.8 471.8 1814.9 476.0 1817.0 479.0C1819.1 482.0 1822.8 490.1 1824.5 495.0C1826.2 499.9 1829.6 513.1 1831.0 520.0C1832.4 526.9 1834.8 543.5 1836.0 552.5C1837.2 561.5 1839.8 585.4 1841.0 595.0C1842.2 604.6 1844.7 623.5 1846.0 632.5C1847.3 641.5 1850.4 661.0 1852.0 670.0C1853.6 679.0 1857.7 698.8 1859.5 707.5C1861.3 716.2 1865.2 734.0 1867.0 742.5C1868.8 751.0 1872.7 769.3 1874.5 778.0C1876.3 786.7 1880.2 805.2 1882.0 815.0C1883.8 824.8 1888.0 851.0 1889.5 860.0C1891.0 869.0 1893.0 884.9 1894.5 890.0C1896.0 895.1 1900.2 898.9 1902.0 902.5C1903.8 906.1 1907.8 916.4 1909.5 920.0C1911.2 923.6 1914.6 930.6 1916.0 932.5C1917.4 934.4 1919.7 935.7 1921.0 935.5C1922.3 935.3 1925.7 933.2 1927.0 931.0C1928.3 928.8 1930.8 923.0 1932.0 917.5C1933.2 912.0 1935.8 893.7 1937.0 885.0C1938.2 876.3 1940.8 854.0 1942.0 845.0C1943.2 836.0 1945.8 818.8 1947.0 810.0C1948.2 801.2 1950.7 780.1 1952.0 772.0C1953.3 763.9 1956.6 747.4 1958.0 742.5C1959.4 737.6 1962.6 731.3 1964.0 731.0C1965.4 730.7 1967.9 735.9 1969.5 740.0C1971.1 744.1 1975.2 758.4 1977.0 765.0C1978.8 771.6 1982.7 788.7 1984.5 795.0C1986.3 801.3 1990.2 813.9 1992.0 817.5C1993.8 821.1 1997.7 822.9 1999.5 825.0C2001.3 827.1 2005.8 832.3 2007.0 835.0C2008.2 837.7 2009.2 846.0 2009.5 847.5" stroke="#ff00ff" stroke-width="7.5"/>
<path transform="translate(0.6 0)" d="M173.0 438.0L173.7 438.0L174.5 438.0L175.5 438.0L176.7 438.0L178.1 438.0L179.5 438.0L181.1 438.0L182.8 438.0L184.5 438.0L186.4 438.1L188.2 438.5L190.1 437.7L192.1 437.8L194.0 437.3L195.9 437.9L197.8 438.2L199.7 436.5L201.5 436.5L203.2 436.8L204.8 439.0L206.3 439.3L207.7 437.3L208.9 438.8L210.0 437.0L211.3 438.0L212.7 436.7L214.2 435.8L215.8 438.3L217.5 436.9L219.2 436.4L221.0 438.7L222.8 439.1L224.6 437.2L226.4 438.8L228.2 437.9L229.9 437.9L231.6 436.3L233.2 438.2L234.7 438.0L236.0 438.9L237.3 438.9L238.4 436.9L239.3 436.5L240.0 435.7L242.4 436.4L243.6 437.7L244.3 439.9L245.0 441.9L245.5 439.6L245.9 439.9L246.5 437.7L247.8 435.9L250.0 436.8L250.7 436.2L251.7 435.4L252.8 435.8L254.1 436.7L255.5 434.9L257.1 437.5L258.8 435.3L260.5 437.1L262.4 438.2L264.3 435.9L266.2 437.8L268.1 437.2L270.1 437.9L272.0 436.3L273.8 436.0L275.7 436.5L277.4 439.4L279.0 437.9L280.5 439.4L281.9 440.5L283.1 441.0L284.2 439.2L285.0 438.6L287.1 438.7L289.0 439.2L290.7 436.5L292.4 437.3L293.9 437.2L295.2 437.2L296.4 434.3L297.5 436.7L298.3 435.1L299.2 436.2L300.2 438.4L301.2 441.3L302.2 441.4L303.2 444.6L304.2 445.4L305.2 445.9L306.1 446.8L306.9 447.1L307.5 447.1L308.6 447.1L309.9 448.2L311.3 448.6L312.6 445.0L313.9 442.8L315.0 445.0L316.2 444.7L317.7 444.7L319.3 444.8L321.0 446.6L322.6 448.4L324.0 447.7L325.1 447.0L326.4 445.1L327.9 446.6L329.5 443.6L331.0 443.5L332.6 444.2L333.9 441.7L335.0 443.0L336.2 444.6L337.7 444.8L339.4 446.2L341.1 445.3L342.6 446.9L344.0 447.0L345.0 449.7L346.5 448.5L348.2 448.0L349.7 449.6L351.0 450.7L351.4 451.9L351.8 451.4L352.2 452.3L352.7 454.5L353.2 455.5L353.8 456.5L354.3 458.5L354.8 459.6L355.4 461.9L355.9 466.0L356.3 468.3L356.8 468.9L357.2 469.4L357.5 469.6L358.1 470.1L358.9 472.0L359.6 475.5L360.4 478.0L361.1 478.0L361.9 480.1L362.5 481.3L363.9 481.7L365.8 481.6L367.7 482.0L369.0 482.5L369.3 483.6L369.6 484.2L369.8 485.7L370.1 487.6L370.3 489.4L370.6 490.7L370.9 493.2L371.2 494.9L371.6 496.7L372.0 497.9L372.5 499.9L372.8 500.7L373.1 501.9L373.5 502.9L374.0 504.3L374.4 505.5L375.0 506.9L375.5 508.3L376.1 509.9L376.7 511.5L377.4 513.1L378.0 514.7L378.7 516.4L379.3 518.1L380.0 519.8L380.6 521.4L381.3 523.0L381.9 524.6L382.5 526.1L383.1 527.6L383.6 528.9L384.1 530.2L384.6 531.4L385.0 532.5C388.0 540.3 394.5 557.5 397.5 565.0C400.5 572.5 407.0 588.1 410.0 595.0C413.0 601.9 419.5 615.9 422.5 622.5C425.5 629.1 432.0 644.0 435.0 650.0C438.0 656.0 444.5 667.8 447.5 672.5C450.5 677.2 457.3 686.2 460.0 689.0C462.7 691.8 467.9 695.0 470.0 696.0C472.1 697.0 475.7 697.6 477.5 697.5C479.3 697.4 482.6 696.6 485.0 695.0C487.4 693.4 494.5 687.0 497.5 684.0C500.5 681.0 507.0 673.5 510.0 670.0C513.0 666.5 519.5 658.1 522.5 655.0C525.5 651.9 530.5 647.7 535.0 644.0C539.5 640.3 554.0 629.2 560.0 624.0C566.0 618.8 579.0 606.3 585.0 601.0C591.0 595.7 604.0 584.6 610.0 580.0C616.0 575.4 629.0 566.4 635.0 562.5C641.0 558.6 655.3 550.2 660.0 547.5C664.7 544.8 671.4 540.8 674.0 540.0C676.6 539.2 680.0 539.5 681.5 541.0C683.0 542.5 685.5 547.8 686.5 552.5C687.5 557.2 689.0 575.2 690.0 580.0C691.0 584.8 693.4 591.9 694.5 592.5C695.6 593.1 697.7 588.6 699.0 585.0C700.3 581.4 703.7 565.0 705.0 562.5C706.3 560.0 708.8 561.3 710.0 564.0C711.2 566.7 713.8 581.6 715.0 585.0C716.2 588.4 718.9 592.8 720.0 592.5C721.1 592.2 723.0 585.3 724.0 582.5C725.0 579.7 726.2 571.7 728.0 569.0C729.8 566.3 736.5 561.7 739.0 560.0C741.5 558.3 746.9 555.3 749.0 555.0C751.1 554.7 755.2 559.0 756.5 557.5C757.8 556.0 758.8 545.7 760.0 542.5C761.2 539.3 764.2 533.4 766.5 531.0C768.8 528.6 775.1 524.5 779.0 522.5C782.9 520.5 793.6 516.2 799.0 514.5C804.4 512.8 818.0 509.5 824.0 508.0C830.0 506.5 843.0 503.3 849.0 502.0C855.0 500.7 868.0 498.2 874.0 497.0C880.0 495.8 890.0 493.5 899.0 492.0C908.0 490.5 937.0 486.3 949.0 484.5C961.0 482.7 987.0 478.7 999.0 477.0C1011.0 475.3 1037.0 471.7 1049.0 470.3C1061.0 468.9 1087.0 466.2 1099.0 465.0C1111.0 463.8 1138.3 461.7 1149.0 460.5C1159.7 459.3 1180.3 456.3 1188.0 455.0C1195.7 453.7 1207.0 450.7 1213.0 449.5L1214.2 449.3L1215.6 449.0L1217.0 448.8L1218.6 448.5L1220.3 448.2L1222.0 447.9L1223.8 447.6L1225.6 447.3L1227.4 447.2L1229.2 446.9L1230.9 446.8L1232.5 445.5L1234.1 444.9L1235.5 445.0L1236.8 445.5L1238.0 444.3L1239.2 444.9L1240.6 444.7L1242.0 442.8L1243.6 442.9L1245.2 441.9L1246.9 440.8L1248.6 440.2L1250.3 440.1L1252.0 439.4L1253.7 438.8L1255.3 437.8L1256.7 438.3L1258.1 438.1L1259.4 438.4L1260.5 438.3L1261.8 437.2L1263.2 438.4L1264.7 436.3L1266.3 436.5L1268.0 436.2L1269.7 436.3L1271.5 435.5L1273.2 436.9L1274.9 436.2L1276.5 435.0L1277.9 436.0L1279.3 435.0L1280.5 435.7L1281.7 435.4L1283.1 435.9L1284.7 437.0L1286.4 437.0L1288.1 435.9L1289.9 436.5L1291.7 436.2L1293.5 435.4L1295.2 434.5L1296.8 435.3L1298.2 435.6L1299.5 436.7L1300.5 437.1L1302.0 436.5L1303.7 435.8L1305.5 437.1L1307.2 435.5L1308.9 435.5L1310.5 436.9L1311.8 437.8L1313.0 437.1L1314.3 438.6L1315.8 440.4L1317.5 440.3L1319.1 441.1L1320.7 441.5L1322.0 442.4L1323.0 444.9L1324.0 445.0L1325.0 447.6L1326.0 449.3L1327.1 450.0L1328.1 450.0L1329.0 452.1L1330.2 451.5L1331.7 450.9L1333.4 450.1L1335.2 451.3L1336.8 450.3L1338.0 449.6L1339.1 450.2L1340.5 450.2L1341.9 451.9L1343.2 452.8L1344.5 453.7L1345.5 455.2L1346.1 456.2L1346.8 456.8L1347.6 458.3L1348.4 459.8L1349.2 461.6L1350.0 463.1L1350.8 464.7L1351.4 466.2L1352.0 467.5C1353.5 471.1 1356.6 480.8 1358.0 485.0C1359.4 489.2 1362.5 498.3 1364.0 502.5C1365.5 506.7 1368.9 517.2 1370.5 520.0C1372.1 522.8 1375.6 524.8 1377.0 526.0C1378.4 527.2 1380.6 530.1 1382.0 530.0C1383.4 529.9 1387.6 528.0 1389.0 525.0C1390.4 522.0 1392.6 509.8 1394.0 505.0L1394.3 503.9L1394.7 502.6L1395.1 501.1L1395.6 499.6L1396.1 498.0L1396.6 496.3L1397.1 494.7L1397.7 492.7L1398.2 491.4L1398.7 489.6L1399.2 488.3L1399.7 486.8L1400.1 485.6L1400.5 484.9L1401.2 483.5L1402.1 481.8L1403.1 480.9L1404.2 479.4L1405.3 476.6L1406.3 475.2L1407.2 474.5L1408.0 475.0L1408.8 474.3L1409.7 472.1L1410.8 468.8L1411.9 468.7L1413.0 466.8L1414.0 465.7L1414.9 465.2L1415.5 464.6L1416.8 464.9L1418.0 468.0L1419.0 467.6L1419.4 466.5L1419.9 466.4L1420.4 463.3L1421.0 461.2L1421.6 460.9L1422.3 457.6L1423.0 458.1L1423.9 457.4L1425.2 455.7L1426.8 454.0L1428.5 454.2L1430.1 454.0L1431.7 451.2L1433.0 450.8L1434.1 450.4L1435.4 449.5L1436.9 448.0L1438.5 446.3L1440.1 446.3L1441.7 446.3L1443.2 443.8L1444.5 443.1L1445.5 444.5L1446.9 445.3L1448.4 445.8L1450.0 445.0L1451.5 447.6L1452.9 450.2L1454.0 451.9L1454.7 452.1L1455.4 451.2L1456.3 454.1L1457.2 454.4L1458.1 456.8L1459.0 459.5L1459.9 460.8L1460.7 460.9L1461.4 462.2L1462.0 464.6L1462.5 464.7L1463.0 466.5L1463.6 467.8L1464.2 469.1L1464.8 471.3L1465.4 472.5L1466.0 474.1L1466.6 476.0L1467.1 477.3L1467.6 478.6L1468.0 479.9L1468.6 481.4L1469.3 482.9L1470.1 484.4L1470.9 486.0L1471.7 487.6L1472.5 489.0L1473.3 490.1L1474.0 491.0C1475.8 492.8 1481.0 493.9 1483.0 495.0C1485.0 496.1 1488.7 499.9 1490.5 500.0C1492.3 500.1 1496.4 497.1 1498.0 496.0C1499.6 494.9 1502.5 491.2 1504.0 491.0L1505.5 491.6L1507.4 492.9L1509.2 494.1L1510.5 494.0L1510.9 493.3L1511.3 492.1L1511.7 490.6L1512.1 488.8L1512.5 486.8L1512.9 484.8L1513.3 483.0L1513.7 481.2L1514.0 480.1L1514.4 478.8L1514.8 477.0L1515.3 475.3L1515.9 473.5L1516.4 471.9L1517.1 469.9L1517.7 468.6L1518.3 467.3L1519.0 465.7L1519.8 465.1L1520.9 463.5L1522.2 462.2L1523.6 461.7L1525.0 460.4L1526.5 460.1L1528.0 458.9L1529.3 457.9L1530.5 457.8L1531.6 456.6L1533.0 456.8L1534.5 455.7L1536.2 455.3L1538.0 455.9L1539.7 455.6L1541.4 454.6L1543.0 454.0L1544.4 454.7L1545.5 454.4L1546.9 454.1L1548.5 452.8L1550.2 452.5L1552.0 451.7L1553.8 451.0L1555.4 450.5L1556.9 450.2L1558.0 450.0L1559.4 450.0L1560.9 450.3L1562.6 450.7L1564.2 451.1L1565.7 451.2L1567.0 451.0C1569.4 450.1 1574.9 444.0 1578.0 442.5C1581.1 441.0 1589.1 438.7 1593.0 438.5C1596.9 438.3 1606.9 439.9 1610.5 441.0C1614.1 442.1 1620.3 445.3 1623.0 447.5C1625.7 449.7 1631.1 456.8 1633.0 459.0C1634.9 461.2 1637.1 465.0 1639.0 466.0C1640.9 467.0 1647.2 465.2 1649.0 467.5C1650.8 469.8 1652.9 479.9 1654.0 485.0C1655.1 490.1 1657.0 506.7 1658.0 510.0C1659.0 513.3 1660.9 514.0 1662.0 512.5C1663.1 511.0 1665.9 500.4 1667.0 497.5C1668.1 494.6 1670.2 487.5 1671.0 488.0C1671.8 488.5 1673.2 494.8 1674.0 502.0C1674.8 509.2 1676.7 539.2 1677.5 548.0C1678.3 556.8 1679.7 573.6 1680.5 575.0C1681.3 576.4 1683.1 567.8 1684.0 560.0C1684.9 552.2 1686.9 520.6 1688.0 510.0C1689.1 499.4 1691.8 478.0 1693.0 472.0C1694.2 466.0 1696.3 462.6 1698.0 460.0C1699.7 457.4 1704.7 451.4 1707.0 450.0C1709.3 448.6 1714.3 449.3 1717.0 448.0C1719.7 446.7 1726.2 440.6 1729.5 439.0C1732.8 437.4 1741.5 435.0 1744.5 435.0C1747.5 435.0 1752.5 437.2 1754.5 439.0C1756.5 440.8 1759.8 445.7 1761.0 450.0C1762.2 454.3 1763.7 470.8 1764.5 475.0C1765.3 479.2 1766.7 485.6 1767.5 485.0C1768.3 484.4 1770.2 473.9 1771.0 470.0C1771.8 466.1 1773.3 455.0 1774.5 452.5C1775.7 450.0 1778.9 448.7 1781.0 449.0C1783.1 449.3 1789.5 453.2 1792.0 455.0C1794.5 456.8 1800.2 462.2 1802.0 464.0C1803.8 465.8 1805.2 468.2 1807.0 470.0C1808.8 471.8 1814.9 476.0 1817.0 479.0C1819.1 482.0 1822.8 490.1 1824.5 495.0C1826.2 499.9 1829.6 513.1 1831.0 520.0C1832.4 526.9 1834.8 543.5 1836.0 552.5C1837.2 561.5 1839.8 585.4 1841.0 595.0C1842.2 604.6 1844.7 623.5 1846.0 632.5C1847.3 641.5 1850.4 661.0 1852.0 670.0C1853.6 679.0 1857.7 698.8 1859.5 707.5C1861.3 716.2 1865.2 734.0 1867.0 742.5C1868.8 751.0 1872.7 769.3 1874.5 778.0C1876.3 786.7 1880.2 805.2 1882.0 815.0C1883.8 824.8 1888.0 851.0 1889.5 860.0C1891.0 869.0 1893.0 884.9 1894.5 890.0C1896.0 895.1 1900.2 898.9 1902.0 902.5C1903.8 906.1 1907.8 916.4 1909.5 920.0C1911.2 923.6 1914.6 930.6 1916.0 932.5C1917.4 934.4 1919.7 935.7 1921.0 935.5C1922.3 935.3 1925.7 933.2 1927.0 931.0C1928.3 928.8 1930.8 923.0 1932.0 917.5C1933.2 912.0 1935.8 893.7 1937.0 885.0C1938.2 876.3 1940.8 854.0 1942.0 845.0C1943.2 836.0 1945.8 818.8 1947.0 810.0C1948.2 801.2 1950.7 780.1 1952.0 772.0C1953.3 763.9 1956.6 747.4 1958.0 742.5C1959.4 737.6 1962.6 731.3 1964.0 731.0C1965.4 730.7 1967.9 735.9 1969.5 740.0C1971.1 744.1 1975.2 758.4 1977.0 765.0C1978.8 771.6 1982.7 788.7 1984.5 795.0C1986.3 801.3 1990.2 813.9 1992.0 817.5C1993.8 821.1 1997.7 822.9 1999.5 825.0C2001.3 827.1 2005.8 832.3 2007.0 835.0C2008.2 837.7 2009.2 846.0 2009.5 847.5" stroke="#ff00ff" stroke-width="7.5"/>
<path transform="translate(-1.0 0)" d="M173.0 830.0L173.8 830.3L175.0 830.9L176.6 831.6L178.3 831.8L180.2 832.9L182.0 833.4L183.6 833.0L185.0 834.4L186.1 833.3L187.5 834.7L189.0 834.0L190.6 834.1L192.4 835.8L194.1 838.4L195.8 836.6L197.4 836.7L198.8 838.6L200.0 840.9L201.2 840.4L202.7 839.8L204.4 842.5L206.1 840.0L207.9 843.0L209.7 842.1L211.4 841.5L212.9 841.4L214.1 842.3L215.0 844.8L216.5 842.2L217.7 841.5L218.8 840.3L220.0 838.7L221.0 839.4L222.4 838.2L224.0 838.5L225.7 839.9L227.3 843.0L228.8 843.4L230.0 843.1L231.3 843.7L233.0 842.7L234.7 840.9L236.4 841.7L237.9 841.2L239.0 839.3L239.7 840.9L240.5 842.4L241.3 845.8L242.0 847.8L242.7 847.8L243.4 851.4L244.0 849.1L244.6 848.8L245.4 849.0L246.3 845.1L247.2 843.8L248.2 840.2L249.1 840.8L250.0 841.1L251.0 840.6L252.5 842.2L254.1 840.9L255.8 842.7L257.4 843.4L258.9 844.1L260.0 844.0L261.4 845.9L263.1 847.5L264.8 846.4L266.3 846.9L267.5 844.5L268.6 845.4L269.8 844.2L271.0 844.1L272.5 843.1L273.5 841.0L274.9 841.0L276.6 842.6L278.4 841.0L280.3 842.6L282.1 842.3L283.7 842.0L285.0 841.4L285.9 843.7L287.0 841.1L288.1 839.8L289.4 839.0L290.7 839.7L292.0 835.6L293.3 834.8L294.5 834.2L295.7 834.9L296.7 834.5L297.5 834.7L298.2 832.7L299.0 833.3L299.9 834.2L300.8 837.7L301.7 840.5L302.7 839.2L303.6 840.1L304.5 841.7L305.4 843.2L306.2 845.5L306.9 847.2L307.5 846.6L308.4 845.0L309.5 845.4L310.7 844.2L311.9 843.6L313.1 843.8L314.2 842.0L315.2 840.0L316.0 839.7L317.0 840.4L318.1 839.1L319.3 843.4L320.5 845.5L321.6 847.4L322.5 848.0L323.8 846.1L325.4 844.7L327.1 842.2L328.8 842.9L330.0 840.7L331.4 839.9L333.1 840.2L334.7 840.9L336.0 842.9L336.3 843.1L336.7 843.8L337.1 845.5L337.5 847.1L338.0 849.5L338.4 850.7L338.9 854.3L339.3 856.1L339.7 857.1L340.2 858.8L340.6 860.6L341.0 862.2L341.3 862.9L341.6 864.7L342.0 866.3L342.4 867.2L342.8 868.5L343.3 869.7L343.8 871.2L344.3 873.0L344.8 874.7L345.3 876.3L345.8 878.0L346.3 879.7L346.8 881.3L347.3 882.9L347.7 884.5L348.1 886.0L348.5 887.4L348.8 888.8L349.0 890.0C350.4 897.5 351.5 915.4 352.5 925.0C353.5 934.6 356.3 959.5 357.5 970.0C358.7 980.5 361.3 1004.1 362.5 1012.5C363.7 1020.9 366.3 1030.7 367.5 1040.0C368.7 1049.3 371.0 1078.0 372.5 1090.0C374.0 1102.0 378.2 1129.2 380.0 1140.0C381.8 1150.8 385.4 1170.4 387.5 1180.0C389.6 1189.6 394.8 1209.8 397.5 1220.0C400.2 1230.2 407.0 1254.8 410.0 1265.0C413.0 1275.2 419.5 1296.3 422.5 1305.0C425.5 1313.7 432.0 1330.3 435.0 1337.5C438.0 1344.7 444.5 1359.6 447.5 1365.0C450.5 1370.4 457.3 1379.5 460.0 1382.5C462.7 1385.5 467.9 1389.0 470.0 1390.0C472.1 1391.0 475.7 1391.0 477.5 1391.0C479.3 1391.0 482.9 1391.2 485.0 1390.0C487.1 1388.8 492.3 1383.7 495.0 1381.0C497.7 1378.3 504.5 1370.6 507.5 1367.5C510.5 1364.4 517.0 1357.5 520.0 1355.5C523.0 1353.5 528.9 1351.1 532.5 1351.0C536.1 1350.9 546.1 1354.4 550.0 1354.5C553.9 1354.6 560.2 1353.3 565.0 1352.0C569.8 1350.7 583.1 1346.5 590.0 1344.0C596.9 1341.5 615.6 1333.6 622.5 1331.0C629.4 1328.4 641.3 1325.1 647.5 1322.5C653.7 1319.9 669.0 1311.2 674.0 1309.0C679.0 1306.8 685.1 1304.7 689.0 1304.5C692.9 1304.3 702.9 1306.1 706.5 1307.5C710.1 1308.9 716.6 1316.3 719.0 1316.0C721.4 1315.7 723.8 1307.8 726.5 1305.0C729.2 1302.2 738.2 1295.5 741.5 1292.5C744.8 1289.5 751.6 1283.0 754.0 1280.0C756.4 1277.0 758.5 1270.8 761.5 1267.5C764.5 1264.2 774.5 1256.4 779.0 1252.5C783.5 1248.6 793.6 1239.0 799.0 1235.0C804.4 1231.0 818.0 1223.1 824.0 1219.0C830.0 1214.9 843.0 1205.0 849.0 1201.0C855.0 1197.0 868.0 1189.4 874.0 1186.0C880.0 1182.6 893.0 1175.9 899.0 1172.5C905.0 1169.1 918.0 1161.4 924.0 1157.5C930.0 1153.6 943.0 1144.2 949.0 1140.0C955.0 1135.8 968.0 1127.0 974.0 1122.5C980.0 1118.0 993.0 1107.0 999.0 1102.5C1005.0 1098.0 1018.0 1089.6 1024.0 1085.0C1030.0 1080.4 1042.8 1068.9 1049.0 1064.0C1055.2 1059.1 1070.1 1048.8 1076.0 1044.5C1081.9 1040.2 1092.7 1032.0 1098.0 1028.0C1103.3 1024.0 1114.7 1015.6 1120.0 1011.5C1125.3 1007.4 1136.7 997.9 1142.0 993.5C1147.3 989.1 1158.7 979.5 1164.0 974.5C1169.3 969.5 1181.6 956.9 1186.0 952.0C1190.4 947.1 1197.3 938.3 1200.5 934.0C1203.7 929.7 1210.0 919.8 1213.0 916.0C1216.0 912.2 1222.5 906.5 1225.5 902.5C1228.5 898.5 1235.0 887.0 1238.0 882.5L1238.7 881.5L1239.5 880.3L1240.4 879.1L1241.3 877.7L1242.3 876.2L1243.3 875.0L1244.4 873.6L1245.4 872.4L1246.4 870.7L1247.4 869.0L1248.3 868.4L1249.1 867.8L1249.9 866.8L1250.5 865.9L1251.2 864.9L1252.0 863.6L1252.8 861.2L1253.7 860.1L1254.6 858.4L1255.5 856.2L1256.4 854.5L1257.3 853.6L1258.2 852.4L1259.0 852.1L1259.8 851.9L1260.5 850.2L1261.3 850.0L1262.4 849.2L1263.5 848.0L1264.8 845.5L1266.1 843.4L1267.5 841.9L1268.8 840.4L1270.0 839.2L1271.2 839.0L1272.2 839.0L1273.0 838.5L1274.4 836.8L1275.9 835.9L1277.6 835.4L1279.2 833.3L1280.7 833.4L1282.0 833.9L1283.2 833.9L1284.8 834.1L1286.6 833.9L1288.4 833.5L1290.2 834.9L1291.8 834.6L1293.0 835.6L1294.4 836.1L1295.9 834.9L1297.6 834.2L1299.3 835.0L1300.8 834.7L1302.0 833.6L1303.2 833.4L1304.7 833.9L1306.4 836.2L1308.0 837.5L1309.4 837.3L1310.5 839.5L1311.0 841.0L1311.6 841.7L1312.2 842.3L1312.9 843.9L1313.5 844.7L1314.2 845.9L1314.8 849.5L1315.5 851.1L1316.0 852.5L1316.6 854.7L1317.0 855.2L1317.4 856.9L1317.8 858.3L1318.3 858.5L1318.8 859.7L1319.3 861.3L1319.8 862.9L1320.3 865.3L1320.9 866.6L1321.4 868.5L1321.8 869.6L1322.3 872.6L1322.7 873.5L1323.0 874.9L1323.2 876.2L1323.5 878.1L1323.7 878.8L1324.0 881.0L1324.3 882.0L1324.6 883.6L1324.9 885.3L1325.2 886.0L1325.5 888.3L1325.9 889.7L1326.2 891.0L1326.5 894.3L1326.8 895.2L1327.0 897.1L1327.3 899.3L1327.6 900.5L1327.8 901.2L1328.0 902.4L1328.3 904.0L1328.6 906.0L1329.0 906.4L1329.4 908.6L1329.8 909.9L1330.2 911.5L1330.7 914.3L1331.1 915.8L1331.5 917.4L1331.9 919.4L1332.3 921.2L1332.7 921.7L1333.0 922.8L1333.4 924.0L1334.0 925.4L1334.6 927.3L1335.3 928.5L1335.9 930.2L1336.6 931.7L1337.3 934.2L1337.9 935.6L1338.5 937.2L1339.0 938.7L1339.4 938.5L1339.9 939.9L1340.5 942.0L1341.0 943.5L1341.7 944.1L1342.3 945.4L1342.9 947.4L1343.5 948.8L1344.1 950.5L1344.6 951.9L1345.1 953.8L1345.5 955.2L1345.8 956.5L1346.2 957.3L1346.6 959.0L1347.0 960.6L1347.4 962.0L1347.9 963.9L1348.3 965.7L1348.7 967.3L1349.1 969.0L1349.5 970.6L1349.9 972.2L1350.2 973.7L1350.5 975.0C1351.6 980.4 1354.1 992.2 1355.0 1000.0C1355.9 1007.8 1357.0 1030.7 1358.0 1040.0C1359.0 1049.3 1361.8 1067.9 1363.0 1077.5C1364.2 1087.1 1366.8 1110.1 1368.0 1120.0C1369.2 1129.9 1371.8 1151.0 1373.0 1160.0C1374.2 1169.0 1376.7 1187.3 1378.0 1195.0C1379.3 1202.7 1382.5 1221.6 1384.0 1224.0C1385.5 1226.4 1389.1 1219.1 1390.5 1215.0C1391.9 1210.9 1394.3 1196.0 1395.5 1190.0C1396.7 1184.0 1399.3 1171.6 1400.5 1165.0L1400.7 1163.9L1400.9 1162.8L1401.1 1161.4L1401.4 1160.0L1401.6 1158.5L1401.9 1157.0L1402.2 1155.3L1402.4 1153.7L1402.7 1152.0L1403.0 1150.2L1403.3 1148.5L1403.6 1146.8L1403.8 1145.1L1404.1 1143.4L1404.4 1141.8L1404.6 1140.3L1404.9 1138.8L1405.1 1137.4L1405.3 1136.1L1405.5 1135.0L1405.7 1133.8L1405.9 1132.6L1406.1 1131.2L1406.4 1129.6L1406.6 1128.1L1406.9 1126.7L1407.2 1125.1L1407.5 1123.2L1407.8 1121.3L1408.1 1119.9L1408.4 1118.2L1408.6 1116.5L1408.9 1114.4L1409.2 1112.6L1409.5 1111.5L1409.7 1109.9L1409.9 1108.1L1410.1 1107.5L1410.3 1106.3L1410.5 1105.4L1410.7 1103.4L1410.9 1102.5L1411.1 1100.3L1411.4 1099.3L1411.6 1097.4L1411.8 1095.3L1412.1 1093.7L1412.3 1092.5L1412.5 1090.0L1412.8 1087.8L1413.0 1086.6L1413.2 1084.6L1413.4 1082.8L1413.6 1081.4L1413.8 1080.0L1414.0 1079.1L1414.3 1077.8L1414.6 1076.3L1414.9 1075.4L1415.2 1073.0L1415.6 1071.3L1415.9 1068.9L1416.3 1067.2L1416.7 1064.9L1417.2 1063.7L1417.6 1062.0L1418.0 1062.5L1418.8 1061.4L1419.8 1059.1L1421.0 1058.1L1422.4 1057.9L1423.7 1055.1L1425.0 1055.3L1426.1 1054.2L1427.0 1054.0L1427.8 1055.2L1428.6 1055.5L1429.6 1057.0L1430.5 1059.1L1431.4 1061.8L1432.4 1062.3L1433.2 1064.6L1434.0 1065.8L1434.9 1066.7L1435.9 1067.6L1437.2 1068.8L1438.5 1069.7L1439.8 1071.1L1441.0 1072.2L1442.1 1074.6L1443.0 1074.4L1444.0 1073.8L1445.1 1072.8L1446.3 1073.4L1447.5 1072.7L1448.7 1071.0L1449.7 1068.6L1450.5 1066.8L1450.9 1065.8L1451.4 1064.7L1452.0 1062.4L1452.5 1061.0L1453.0 1058.7L1453.6 1058.2L1454.1 1056.9L1454.7 1054.4L1455.1 1052.0L1455.6 1052.4L1456.0 1050.9L1456.6 1050.8L1457.4 1050.8L1458.2 1052.8L1459.1 1055.0L1460.0 1057.2L1460.8 1058.5L1461.5 1060.8L1462.0 1061.3L1462.3 1062.7L1462.7 1063.8L1463.0 1066.1L1463.4 1067.4L1463.7 1069.0L1464.1 1071.4L1464.4 1073.2L1464.8 1075.5L1465.1 1076.8L1465.5 1078.1L1466.8 1078.4L1468.7 1077.8L1470.6 1077.3L1472.0 1076.1L1472.9 1076.7L1473.9 1079.9L1475.0 1080.4L1476.1 1082.7L1477.0 1083.0L1477.5 1081.0L1478.0 1081.2L1478.6 1080.2L1479.3 1077.9L1480.1 1076.0L1480.8 1074.1L1481.5 1070.6L1482.3 1069.1L1482.9 1067.6L1483.5 1067.3L1484.0 1067.0L1484.8 1067.2L1485.8 1067.6L1486.8 1069.7L1487.9 1071.2L1488.9 1072.9L1489.8 1073.5L1490.5 1073.8L1491.2 1075.0L1492.1 1077.1L1493.0 1078.4L1493.8 1081.5L1494.7 1082.5L1495.5 1082.9L1496.2 1082.5L1497.1 1081.6L1498.1 1079.8L1499.2 1076.9L1500.3 1076.6L1501.4 1075.4L1502.3 1073.6L1503.0 1072.7L1504.4 1072.0L1506.1 1070.2L1507.7 1070.6L1509.0 1068.5L1509.4 1067.0L1509.8 1066.1L1510.2 1065.8L1510.7 1063.4L1511.1 1062.6L1511.6 1061.7L1512.1 1059.1L1512.6 1056.8L1513.1 1055.1L1513.5 1054.1L1514.0 1053.3L1514.5 1052.0L1515.0 1050.8L1515.7 1048.2L1516.4 1046.5L1517.2 1045.2L1518.0 1044.9L1518.9 1042.8L1519.7 1041.6L1520.5 1039.2L1521.3 1037.7L1521.9 1036.7L1522.5 1036.1L1523.0 1035.3L1523.4 1034.2L1523.9 1032.4L1524.4 1031.0L1524.9 1029.3L1525.4 1027.6L1525.9 1025.6L1526.4 1024.3L1526.9 1022.2L1527.4 1020.8L1527.9 1019.2L1528.3 1017.4L1528.7 1016.1L1529.0 1015.1L1529.3 1013.9L1529.7 1012.5L1530.1 1011.0L1530.6 1009.5L1531.0 1007.9L1531.5 1006.2L1531.9 1004.6L1532.4 1003.0L1532.8 1001.5L1533.2 1000.0L1533.6 998.7L1534.0 997.5C1535.4 993.0 1538.8 980.8 1540.5 977.5C1542.2 974.2 1546.4 973.6 1548.0 970.0C1549.6 966.4 1552.5 951.4 1554.0 947.5C1555.5 943.6 1558.8 939.9 1560.5 937.5C1562.2 935.1 1566.2 929.6 1568.0 927.5C1569.8 925.4 1573.8 919.7 1575.5 920.0C1577.2 920.3 1580.6 926.7 1582.0 930.0C1583.4 933.3 1585.8 944.8 1587.0 947.5C1588.2 950.2 1590.7 952.8 1592.0 952.5C1593.3 952.2 1596.4 948.6 1598.0 945.0C1599.6 941.4 1603.8 927.8 1605.5 922.5C1607.2 917.2 1611.0 902.2 1612.5 901.0C1614.0 899.8 1616.9 907.2 1618.0 912.5C1619.1 917.8 1621.0 935.4 1622.0 945.0C1623.0 954.6 1625.1 980.8 1626.0 992.5C1626.9 1004.2 1628.7 1030.5 1629.5 1042.5C1630.3 1054.5 1632.1 1081.2 1633.0 1092.5C1633.9 1103.8 1635.9 1127.9 1637.0 1137.0C1638.1 1146.1 1640.8 1161.3 1642.0 1168.0C1643.2 1174.7 1645.3 1186.8 1647.0 1193.0C1648.7 1199.2 1653.9 1213.8 1656.0 1220.0C1658.1 1226.2 1662.6 1240.8 1664.5 1245.0C1666.4 1249.2 1670.0 1253.1 1672.0 1255.0C1674.0 1256.9 1679.2 1261.0 1681.0 1261.0C1682.8 1261.0 1685.7 1258.1 1687.0 1255.0C1688.3 1251.9 1690.8 1240.4 1692.0 1235.0C1693.2 1229.6 1695.8 1216.0 1697.0 1210.0C1698.2 1204.0 1700.3 1191.0 1702.0 1185.0C1703.7 1179.0 1709.5 1166.4 1711.0 1160.0C1712.5 1153.6 1713.7 1139.8 1714.5 1132.0C1715.3 1124.2 1717.1 1103.0 1718.0 1095.0C1718.9 1087.0 1720.9 1069.5 1722.0 1065.0C1723.1 1060.5 1725.5 1059.3 1727.0 1057.5C1728.5 1055.7 1732.8 1051.4 1734.5 1050.0C1736.2 1048.6 1739.5 1045.7 1741.0 1046.0C1742.5 1046.3 1745.6 1051.5 1747.0 1052.5C1748.4 1053.5 1751.7 1055.2 1753.0 1054.0C1754.3 1052.8 1756.6 1046.9 1758.0 1042.5C1759.4 1038.1 1762.9 1022.0 1764.5 1017.5C1766.1 1013.0 1770.0 1009.5 1771.0 1005.0C1772.0 1000.5 1772.2 987.5 1773.0 980.0C1773.8 972.5 1776.6 951.5 1778.0 942.5C1779.4 933.5 1783.1 913.4 1784.5 905.0C1785.9 896.6 1788.3 879.7 1789.5 872.5C1790.7 865.3 1793.2 849.4 1794.5 845.0C1795.8 840.6 1798.6 836.0 1800.0 836.0C1801.4 836.0 1804.3 841.5 1806.0 845.0C1807.7 848.5 1812.6 860.5 1814.5 865.0C1816.4 869.5 1820.2 877.4 1822.0 882.5C1823.8 887.6 1827.7 900.3 1829.5 907.5C1831.3 914.7 1835.5 933.8 1837.0 942.5C1838.5 951.2 1840.8 969.3 1842.0 980.0C1843.2 990.7 1845.8 1020.0 1847.0 1032.0C1848.2 1044.0 1850.5 1069.2 1852.0 1080.0C1853.5 1090.8 1858.0 1114.1 1859.5 1122.0C1861.0 1129.9 1862.9 1140.2 1864.5 1146.0C1866.1 1151.8 1871.2 1163.5 1873.0 1170.0C1874.8 1176.5 1877.9 1191.0 1879.5 1200.0C1881.1 1209.0 1884.6 1234.8 1886.0 1245.0C1887.4 1255.2 1889.8 1277.2 1891.0 1285.0C1892.2 1292.8 1894.4 1305.2 1896.0 1310.0C1897.6 1314.8 1902.6 1321.4 1904.5 1325.0C1906.4 1328.6 1910.5 1337.5 1912.0 1340.0C1913.5 1342.5 1915.8 1345.7 1917.0 1346.0C1918.2 1346.3 1920.7 1345.6 1922.0 1342.5C1923.3 1339.4 1926.8 1327.8 1928.0 1320.0C1929.2 1312.2 1931.0 1288.6 1932.0 1277.5C1933.0 1266.4 1935.1 1239.5 1936.0 1227.5C1936.9 1215.5 1938.5 1191.0 1939.5 1177.5C1940.5 1164.0 1943.3 1127.9 1944.5 1115.0C1945.7 1102.1 1948.3 1079.0 1949.5 1070.0C1950.7 1061.0 1953.5 1044.8 1954.5 1040.0C1955.5 1035.2 1957.0 1030.9 1958.0 1030.0C1959.0 1029.1 1961.6 1030.1 1963.0 1032.5C1964.4 1034.9 1968.1 1044.1 1969.5 1050.0C1970.9 1055.9 1973.0 1074.4 1974.5 1082.0C1976.0 1089.6 1980.5 1106.5 1982.0 1113.0C1983.5 1119.5 1985.5 1131.6 1987.0 1136.0C1988.5 1140.4 1992.9 1148.3 1994.5 1150.0C1996.1 1151.7 1999.4 1153.8 2000.5 1150.0C2001.6 1146.2 2003.0 1124.5 2003.5 1118.0C2004.0 1111.5 2004.5 1095.2 2004.8 1096.0C2005.1 1096.8 2005.5 1117.8 2005.6 1125.0C2005.7 1132.2 2006.0 1152.3 2006.0 1156.0" stroke="#4688e4" stroke-width="7.1"/>
<path transform="translate(1.0 0)" d="M173.0 830.0L173.8 830.3L175.0 830.9L176.6 831.6L178.3 831.8L180.2 832.9L182.0 833.4L183.6 833.0L185.0 834.4L186.1 833.3L187.5 834.7L189.0 834.0L190.6 834.1L192.4 835.8L194.1 838.4L195.8 836.6L197.4 836.7L198.8 838.6L200.0 840.9L201.2 840.4L202.7 839.8L204.4 842.5L206.1 840.0L207.9 843.0L209.7 842.1L211.4 841.5L212.9 841.4L214.1 842.3L215.0 844.8L216.5 842.2L217.7 841.5L218.8 840.3L220.0 838.7L221.0 839.4L222.4 838.2L224.0 838.5L225.7 839.9L227.3 843.0L228.8 843.4L230.0 843.1L231.3 843.7L233.0 842.7L234.7 840.9L236.4 841.7L237.9 841.2L239.0 839.3L239.7 840.9L240.5 842.4L241.3 845.8L242.0 847.8L242.7 847.8L243.4 851.4L244.0 849.1L244.6 848.8L245.4 849.0L246.3 845.1L247.2 843.8L248.2 840.2L249.1 840.8L250.0 841.1L251.0 840.6L252.5 842.2L254.1 840.9L255.8 842.7L257.4 843.4L258.9 844.1L260.0 844.0L261.4 845.9L263.1 847.5L264.8 846.4L266.3 846.9L267.5 844.5L268.6 845.4L269.8 844.2L271.0 844.1L272.5 843.1L273.5 841.0L274.9 841.0L276.6 842.6L278.4 841.0L280.3 842.6L282.1 842.3L283.7 842.0L285.0 841.4L285.9 843.7L287.0 841.1L288.1 839.8L289.4 839.0L290.7 839.7L292.0 835.6L293.3 834.8L294.5 834.2L295.7 834.9L296.7 834.5L297.5 834.7L298.2 832.7L299.0 833.3L299.9 834.2L300.8 837.7L301.7 840.5L302.7 839.2L303.6 840.1L304.5 841.7L305.4 843.2L306.2 845.5L306.9 847.2L307.5 846.6L308.4 845.0L309.5 845.4L310.7 844.2L311.9 843.6L313.1 843.8L314.2 842.0L315.2 840.0L316.0 839.7L317.0 840.4L318.1 839.1L319.3 843.4L320.5 845.5L321.6 847.4L322.5 848.0L323.8 846.1L325.4 844.7L327.1 842.2L328.8 842.9L330.0 840.7L331.4 839.9L333.1 840.2L334.7 840.9L336.0 842.9L336.3 843.1L336.7 843.8L337.1 845.5L337.5 847.1L338.0 849.5L338.4 850.7L338.9 854.3L339.3 856.1L339.7 857.1L340.2 858.8L340.6 860.6L341.0 862.2L341.3 862.9L341.6 864.7L342.0 866.3L342.4 867.2L342.8 868.5L343.3 869.7L343.8 871.2L344.3 873.0L344.8 874.7L345.3 876.3L345.8 878.0L346.3 879.7L346.8 881.3L347.3 882.9L347.7 884.5L348.1 886.0L348.5 887.4L348.8 888.8L349.0 890.0C350.4 897.5 351.5 915.4 352.5 925.0C353.5 934.6 356.3 959.5 357.5 970.0C358.7 980.5 361.3 1004.1 362.5 1012.5C363.7 1020.9 366.3 1030.7 367.5 1040.0C368.7 1049.3 371.0 1078.0 372.5 1090.0C374.0 1102.0 378.2 1129.2 380.0 1140.0C381.8 1150.8 385.4 1170.4 387.5 1180.0C389.6 1189.6 394.8 1209.8 397.5 1220.0C400.2 1230.2 407.0 1254.8 410.0 1265.0C413.0 1275.2 419.5 1296.3 422.5 1305.0C425.5 1313.7 432.0 1330.3 435.0 1337.5C438.0 1344.7 444.5 1359.6 447.5 1365.0C450.5 1370.4 457.3 1379.5 460.0 1382.5C462.7 1385.5 467.9 1389.0 470.0 1390.0C472.1 1391.0 475.7 1391.0 477.5 1391.0C479.3 1391.0 482.9 1391.2 485.0 1390.0C487.1 1388.8 492.3 1383.7 495.0 1381.0C497.7 1378.3 504.5 1370.6 507.5 1367.5C510.5 1364.4 517.0 1357.5 520.0 1355.5C523.0 1353.5 528.9 1351.1 532.5 1351.0C536.1 1350.9 546.1 1354.4 550.0 1354.5C553.9 1354.6 560.2 1353.3 565.0 1352.0C569.8 1350.7 583.1 1346.5 590.0 1344.0C596.9 1341.5 615.6 1333.6 622.5 1331.0C629.4 1328.4 641.3 1325.1 647.5 1322.5C653.7 1319.9 669.0 1311.2 674.0 1309.0C679.0 1306.8 685.1 1304.7 689.0 1304.5C692.9 1304.3 702.9 1306.1 706.5 1307.5C710.1 1308.9 716.6 1316.3 719.0 1316.0C721.4 1315.7 723.8 1307.8 726.5 1305.0C729.2 1302.2 738.2 1295.5 741.5 1292.5C744.8 1289.5 751.6 1283.0 754.0 1280.0C756.4 1277.0 758.5 1270.8 761.5 1267.5C764.5 1264.2 774.5 1256.4 779.0 1252.5C783.5 1248.6 793.6 1239.0 799.0 1235.0C804.4 1231.0 818.0 1223.1 824.0 1219.0C830.0 1214.9 843.0 1205.0 849.0 1201.0C855.0 1197.0 868.0 1189.4 874.0 1186.0C880.0 1182.6 893.0 1175.9 899.0 1172.5C905.0 1169.1 918.0 1161.4 924.0 1157.5C930.0 1153.6 943.0 1144.2 949.0 1140.0C955.0 1135.8 968.0 1127.0 974.0 1122.5C980.0 1118.0 993.0 1107.0 999.0 1102.5C1005.0 1098.0 1018.0 1089.6 1024.0 1085.0C1030.0 1080.4 1042.8 1068.9 1049.0 1064.0C1055.2 1059.1 1070.1 1048.8 1076.0 1044.5C1081.9 1040.2 1092.7 1032.0 1098.0 1028.0C1103.3 1024.0 1114.7 1015.6 1120.0 1011.5C1125.3 1007.4 1136.7 997.9 1142.0 993.5C1147.3 989.1 1158.7 979.5 1164.0 974.5C1169.3 969.5 1181.6 956.9 1186.0 952.0C1190.4 947.1 1197.3 938.3 1200.5 934.0C1203.7 929.7 1210.0 919.8 1213.0 916.0C1216.0 912.2 1222.5 906.5 1225.5 902.5C1228.5 898.5 1235.0 887.0 1238.0 882.5L1238.7 881.5L1239.5 880.3L1240.4 879.1L1241.3 877.7L1242.3 876.2L1243.3 875.0L1244.4 873.6L1245.4 872.4L1246.4 870.7L1247.4 869.0L1248.3 868.4L1249.1 867.8L1249.9 866.8L1250.5 865.9L1251.2 864.9L1252.0 863.6L1252.8 861.2L1253.7 860.1L1254.6 858.4L1255.5 856.2L1256.4 854.5L1257.3 853.6L1258.2 852.4L1259.0 852.1L1259.8 851.9L1260.5 850.2L1261.3 850.0L1262.4 849.2L1263.5 848.0L1264.8 845.5L1266.1 843.4L1267.5 841.9L1268.8 840.4L1270.0 839.2L1271.2 839.0L1272.2 839.0L1273.0 838.5L1274.4 836.8L1275.9 835.9L1277.6 835.4L1279.2 833.3L1280.7 833.4L1282.0 833.9L1283.2 833.9L1284.8 834.1L1286.6 833.9L1288.4 833.5L1290.2 834.9L1291.8 834.6L1293.0 835.6L1294.4 836.1L1295.9 834.9L1297.6 834.2L1299.3 835.0L1300.8 834.7L1302.0 833.6L1303.2 833.4L1304.7 833.9L1306.4 836.2L1308.0 837.5L1309.4 837.3L1310.5 839.5L1311.0 841.0L1311.6 841.7L1312.2 842.3L1312.9 843.9L1313.5 844.7L1314.2 845.9L1314.8 849.5L1315.5 851.1L1316.0 852.5L1316.6 854.7L1317.0 855.2L1317.4 856.9L1317.8 858.3L1318.3 858.5L1318.8 859.7L1319.3 861.3L1319.8 862.9L1320.3 865.3L1320.9 866.6L1321.4 868.5L1321.8 869.6L1322.3 872.6L1322.7 873.5L1323.0 874.9L1323.2 876.2L1323.5 878.1L1323.7 878.8L1324.0 881.0L1324.3 882.0L1324.6 883.6L1324.9 885.3L1325.2 886.0L1325.5 888.3L1325.9 889.7L1326.2 891.0L1326.5 894.3L1326.8 895.2L1327.0 897.1L1327.3 899.3L1327.6 900.5L1327.8 901.2L1328.0 902.4L1328.3 904.0L1328.6 906.0L1329.0 906.4L1329.4 908.6L1329.8 909.9L1330.2 911.5L1330.7 914.3L1331.1 915.8L1331.5 917.4L1331.9 919.4L1332.3 921.2L1332.7 921.7L1333.0 922.8L1333.4 924.0L1334.0 925.4L1334.6 927.3L1335.3 928.5L1335.9 930.2L1336.6 931.7L1337.3 934.2L1337.9 935.6L1338.5 937.2L1339.0 938.7L1339.4 938.5L1339.9 939.9L1340.5 942.0L1341.0 943.5L1341.7 944.1L1342.3 945.4L1342.9 947.4L1343.5 948.8L1344.1 950.5L1344.6 951.9L1345.1 953.8L1345.5 955.2L1345.8 956.5L1346.2 957.3L1346.6 959.0L1347.0 960.6L1347.4 962.0L1347.9 963.9L1348.3 965.7L1348.7 967.3L1349.1 969.0L1349.5 970.6L1349.9 972.2L1350.2 973.7L1350.5 975.0C1351.6 980.4 1354.1 992.2 1355.0 1000.0C1355.9 1007.8 1357.0 1030.7 1358.0 1040.0C1359.0 1049.3 1361.8 1067.9 1363.0 1077.5C1364.2 1087.1 1366.8 1110.1 1368.0 1120.0C1369.2 1129.9 1371.8 1151.0 1373.0 1160.0C1374.2 1169.0 1376.7 1187.3 1378.0 1195.0C1379.3 1202.7 1382.5 1221.6 1384.0 1224.0C1385.5 1226.4 1389.1 1219.1 1390.5 1215.0C1391.9 1210.9 1394.3 1196.0 1395.5 1190.0C1396.7 1184.0 1399.3 1171.6 1400.5 1165.0L1400.7 1163.9L1400.9 1162.8L1401.1 1161.4L1401.4 1160.0L1401.6 1158.5L1401.9 1157.0L1402.2 1155.3L1402.4 1153.7L1402.7 1152.0L1403.0 1150.2L1403.3 1148.5L1403.6 1146.8L1403.8 1145.1L1404.1 1143.4L1404.4 1141.8L1404.6 1140.3L1404.9 1138.8L1405.1 1137.4L1405.3 1136.1L1405.5 1135.0L1405.7 1133.8L1405.9 1132.6L1406.1 1131.2L1406.4 1129.6L1406.6 1128.1L1406.9 1126.7L1407.2 1125.1L1407.5 1123.2L1407.8 1121.3L1408.1 1119.9L1408.4 1118.2L1408.6 1116.5L1408.9 1114.4L1409.2 1112.6L1409.5 1111.5L1409.7 1109.9L1409.9 1108.1L1410.1 1107.5L1410.3 1106.3L1410.5 1105.4L1410.7 1103.4L1410.9 1102.5L1411.1 1100.3L1411.4 1099.3L1411.6 1097.4L1411.8 1095.3L1412.1 1093.7L1412.3 1092.5L1412.5 1090.0L1412.8 1087.8L1413.0 1086.6L1413.2 1084.6L1413.4 1082.8L1413.6 1081.4L1413.8 1080.0L1414.0 1079.1L1414.3 1077.8L1414.6 1076.3L1414.9 1075.4L1415.2 1073.0L1415.6 1071.3L1415.9 1068.9L1416.3 1067.2L1416.7 1064.9L1417.2 1063.7L1417.6 1062.0L1418.0 1062.5L1418.8 1061.4L1419.8 1059.1L1421.0 1058.1L1422.4 1057.9L1423.7 1055.1L1425.0 1055.3L1426.1 1054.2L1427.0 1054.0L1427.8 1055.2L1428.6 1055.5L1429.6 1057.0L1430.5 1059.1L1431.4 1061.8L1432.4 1062.3L1433.2 1064.6L1434.0 1065.8L1434.9 1066.7L1435.9 1067.6L1437.2 1068.8L1438.5 1069.7L1439.8 1071.1L1441.0 1072.2L1442.1 1074.6L1443.0 1074.4L1444.0 1073.8L1445.1 1072.8L1446.3 1073.4L1447.5 1072.7L1448.7 1071.0L1449.7 1068.6L1450.5 1066.8L1450.9 1065.8L1451.4 1064.7L1452.0 1062.4L1452.5 1061.0L1453.0 1058.7L1453.6 1058.2L1454.1 1056.9L1454.7 1054.4L1455.1 1052.0L1455.6 1052.4L1456.0 1050.9L1456.6 1050.8L1457.4 1050.8L1458.2 1052.8L1459.1 1055.0L1460.0 1057.2L1460.8 1058.5L1461.5 1060.8L1462.0 1061.3L1462.3 1062.7L1462.7 1063.8L1463.0 1066.1L1463.4 1067.4L1463.7 1069.0L1464.1 1071.4L1464.4 1073.2L1464.8 1075.5L1465.1 1076.8L1465.5 1078.1L1466.8 1078.4L1468.7 1077.8L1470.6 1077.3L1472.0 1076.1L1472.9 1076.7L1473.9 1079.9L1475.0 1080.4L1476.1 1082.7L1477.0 1083.0L1477.5 1081.0L1478.0 1081.2L1478.6 1080.2L1479.3 1077.9L1480.1 1076.0L1480.8 1074.1L1481.5 1070.6L1482.3 1069.1L1482.9 1067.6L1483.5 1067.3L1484.0 1067.0L1484.8 1067.2L1485.8 1067.6L1486.8 1069.7L1487.9 1071.2L1488.9 1072.9L1489.8 1073.5L1490.5 1073.8L1491.2 1075.0L1492.1 1077.1L1493.0 1078.4L1493.8 1081.5L1494.7 1082.5L1495.5 1082.9L1496.2 1082.5L1497.1 1081.6L1498.1 1079.8L1499.2 1076.9L1500.3 1076.6L1501.4 1075.4L1502.3 1073.6L1503.0 1072.7L1504.4 1072.0L1506.1 1070.2L1507.7 1070.6L1509.0 1068.5L1509.4 1067.0L1509.8 1066.1L1510.2 1065.8L1510.7 1063.4L1511.1 1062.6L1511.6 1061.7L1512.1 1059.1L1512.6 1056.8L1513.1 1055.1L1513.5 1054.1L1514.0 1053.3L1514.5 1052.0L1515.0 1050.8L1515.7 1048.2L1516.4 1046.5L1517.2 1045.2L1518.0 1044.9L1518.9 1042.8L1519.7 1041.6L1520.5 1039.2L1521.3 1037.7L1521.9 1036.7L1522.5 1036.1L1523.0 1035.3L1523.4 1034.2L1523.9 1032.4L1524.4 1031.0L1524.9 1029.3L1525.4 1027.6L1525.9 1025.6L1526.4 1024.3L1526.9 1022.2L1527.4 1020.8L1527.9 1019.2L1528.3 1017.4L1528.7 1016.1L1529.0 1015.1L1529.3 1013.9L1529.7 1012.5L1530.1 1011.0L1530.6 1009.5L1531.0 1007.9L1531.5 1006.2L1531.9 1004.6L1532.4 1003.0L1532.8 1001.5L1533.2 1000.0L1533.6 998.7L1534.0 997.5C1535.4 993.0 1538.8 980.8 1540.5 977.5C1542.2 974.2 1546.4 973.6 1548.0 970.0C1549.6 966.4 1552.5 951.4 1554.0 947.5C1555.5 943.6 1558.8 939.9 1560.5 937.5C1562.2 935.1 1566.2 929.6 1568.0 927.5C1569.8 925.4 1573.8 919.7 1575.5 920.0C1577.2 920.3 1580.6 926.7 1582.0 930.0C1583.4 933.3 1585.8 944.8 1587.0 947.5C1588.2 950.2 1590.7 952.8 1592.0 952.5C1593.3 952.2 1596.4 948.6 1598.0 945.0C1599.6 941.4 1603.8 927.8 1605.5 922.5C1607.2 917.2 1611.0 902.2 1612.5 901.0C1614.0 899.8 1616.9 907.2 1618.0 912.5C1619.1 917.8 1621.0 935.4 1622.0 945.0C1623.0 954.6 1625.1 980.8 1626.0 992.5C1626.9 1004.2 1628.7 1030.5 1629.5 1042.5C1630.3 1054.5 1632.1 1081.2 1633.0 1092.5C1633.9 1103.8 1635.9 1127.9 1637.0 1137.0C1638.1 1146.1 1640.8 1161.3 1642.0 1168.0C1643.2 1174.7 1645.3 1186.8 1647.0 1193.0C1648.7 1199.2 1653.9 1213.8 1656.0 1220.0C1658.1 1226.2 1662.6 1240.8 1664.5 1245.0C1666.4 1249.2 1670.0 1253.1 1672.0 1255.0C1674.0 1256.9 1679.2 1261.0 1681.0 1261.0C1682.8 1261.0 1685.7 1258.1 1687.0 1255.0C1688.3 1251.9 1690.8 1240.4 1692.0 1235.0C1693.2 1229.6 1695.8 1216.0 1697.0 1210.0C1698.2 1204.0 1700.3 1191.0 1702.0 1185.0C1703.7 1179.0 1709.5 1166.4 1711.0 1160.0C1712.5 1153.6 1713.7 1139.8 1714.5 1132.0C1715.3 1124.2 1717.1 1103.0 1718.0 1095.0C1718.9 1087.0 1720.9 1069.5 1722.0 1065.0C1723.1 1060.5 1725.5 1059.3 1727.0 1057.5C1728.5 1055.7 1732.8 1051.4 1734.5 1050.0C1736.2 1048.6 1739.5 1045.7 1741.0 1046.0C1742.5 1046.3 1745.6 1051.5 1747.0 1052.5C1748.4 1053.5 1751.7 1055.2 1753.0 1054.0C1754.3 1052.8 1756.6 1046.9 1758.0 1042.5C1759.4 1038.1 1762.9 1022.0 1764.5 1017.5C1766.1 1013.0 1770.0 1009.5 1771.0 1005.0C1772.0 1000.5 1772.2 987.5 1773.0 980.0C1773.8 972.5 1776.6 951.5 1778.0 942.5C1779.4 933.5 1783.1 913.4 1784.5 905.0C1785.9 896.6 1788.3 879.7 1789.5 872.5C1790.7 865.3 1793.2 849.4 1794.5 845.0C1795.8 840.6 1798.6 836.0 1800.0 836.0C1801.4 836.0 1804.3 841.5 1806.0 845.0C1807.7 848.5 1812.6 860.5 1814.5 865.0C1816.4 869.5 1820.2 877.4 1822.0 882.5C1823.8 887.6 1827.7 900.3 1829.5 907.5C1831.3 914.7 1835.5 933.8 1837.0 942.5C1838.5 951.2 1840.8 969.3 1842.0 980.0C1843.2 990.7 1845.8 1020.0 1847.0 1032.0C1848.2 1044.0 1850.5 1069.2 1852.0 1080.0C1853.5 1090.8 1858.0 1114.1 1859.5 1122.0C1861.0 1129.9 1862.9 1140.2 1864.5 1146.0C1866.1 1151.8 1871.2 1163.5 1873.0 1170.0C1874.8 1176.5 1877.9 1191.0 1879.5 1200.0C1881.1 1209.0 1884.6 1234.8 1886.0 1245.0C1887.4 1255.2 1889.8 1277.2 1891.0 1285.0C1892.2 1292.8 1894.4 1305.2 1896.0 1310.0C1897.6 1314.8 1902.6 1321.4 1904.5 1325.0C1906.4 1328.6 1910.5 1337.5 1912.0 1340.0C1913.5 1342.5 1915.8 1345.7 1917.0 1346.0C1918.2 1346.3 1920.7 1345.6 1922.0 1342.5C1923.3 1339.4 1926.8 1327.8 1928.0 1320.0C1929.2 1312.2 1931.0 1288.6 1932.0 1277.5C1933.0 1266.4 1935.1 1239.5 1936.0 1227.5C1936.9 1215.5 1938.5 1191.0 1939.5 1177.5C1940.5 1164.0 1943.3 1127.9 1944.5 1115.0C1945.7 1102.1 1948.3 1079.0 1949.5 1070.0C1950.7 1061.0 1953.5 1044.8 1954.5 1040.0C1955.5 1035.2 1957.0 1030.9 1958.0 1030.0C1959.0 1029.1 1961.6 1030.1 1963.0 1032.5C1964.4 1034.9 1968.1 1044.1 1969.5 1050.0C1970.9 1055.9 1973.0 1074.4 1974.5 1082.0C1976.0 1089.6 1980.5 1106.5 1982.0 1113.0C1983.5 1119.5 1985.5 1131.6 1987.0 1136.0C1988.5 1140.4 1992.9 1148.3 1994.5 1150.0C1996.1 1151.7 1999.4 1153.8 2000.5 1150.0C2001.6 1146.2 2003.0 1124.5 2003.5 1118.0C2004.0 1111.5 2004.5 1095.2 2004.8 1096.0C2005.1 1096.8 2005.5 1117.8 2005.6 1125.0C2005.7 1132.2 2006.0 1152.3 2006.0 1156.0" stroke="#4688e4" stroke-width="7.1"/>
</g>
<g fill="#000">
<rect x="165.0" y="31.0" width="1852.0" height="8.0"/>
<rect x="165.0" y="31.0" width="8.3" height="1370.0"/>
<rect x="164.3" y="1401.8" width="9.0" height="93.2"/>
<rect x="2008.5" y="31.0" width="8.5" height="1370.0"/>
<rect x="2007.0" y="1401.8" width="8.0" height="93.2"/>
<rect x="164.3" y="1487.0" width="1850.7" height="8.0"/>
<rect x="165.3" y="1494.5" width="8" height="29.5"/>
<rect x="421.2" y="1494.5" width="8" height="29.5"/>
<rect x="677.0" y="1494.5" width="8" height="29.5"/>
<rect x="932.9" y="1494.5" width="8" height="29.5"/>
<rect x="1188.8" y="1494.5" width="8" height="29.5"/>
<rect x="1444.6" y="1494.5" width="8" height="29.5"/>
<rect x="1700.5" y="1494.5" width="8" height="29.5"/>
<rect x="1956.4" y="1494.5" width="8" height="29.5"/>
<rect x="294.2" y="1494.5" width="6" height="12.5"/>
<rect x="550.1" y="1494.5" width="6" height="12.5"/>
<rect x="806.0" y="1494.5" width="6" height="12.5"/>
<rect x="1061.8" y="1494.5" width="6" height="12.5"/>
<rect x="1317.7" y="1494.5" width="6" height="12.5"/>
<rect x="1573.6" y="1494.5" width="6" height="12.5"/>
<rect x="1829.5" y="1494.5" width="6" height="12.5"/>
</g>
<g transform="translate(169.00 1615.80) scale(1.0000 1.0500)">
<text x="-97.22" y="0" font-size="87.40" font-weight="bold" fill="#000">4000</text>
</g>
<g transform="translate(424.87 1615.80) scale(1.0000 1.0500)">
<text x="-97.22" y="0" font-size="87.40" font-weight="bold" fill="#000">3500</text>
</g>
<g transform="translate(680.74 1615.80) scale(1.0000 1.0500)">
<text x="-97.22" y="0" font-size="87.40" font-weight="bold" fill="#000">3000</text>
</g>
<g transform="translate(936.61 1615.80) scale(1.0000 1.0500)">
<text x="-97.22" y="0" font-size="87.40" font-weight="bold" fill="#000">2500</text>
</g>
<g transform="translate(1192.48 1615.80) scale(1.0000 1.0500)">
<text x="-97.22" y="0" font-size="87.40" font-weight="bold" fill="#000">2000</text>
</g>
<g transform="translate(1448.35 1615.80) scale(1.0000 1.0500)">
<text x="-97.22" y="0" font-size="87.40" font-weight="bold" fill="#000">1500</text>
<rect x="-92.71" y="-10.22" width="15.89" height="11.52" fill="#fff"/>
<rect x="-64.82" y="-10.22" width="14.78" height="11.52" fill="#fff"/>
</g>
<g transform="translate(1704.22 1615.80) scale(1.0000 1.0500)">
<text x="-97.22" y="0" font-size="87.40" font-weight="bold" fill="#000">1000</text>
<rect x="-92.71" y="-10.22" width="15.89" height="11.52" fill="#fff"/>
<rect x="-64.82" y="-10.22" width="14.78" height="11.52" fill="#fff"/>
</g>
<g transform="translate(1960.09 1615.80) scale(1.0000 1.0500)">
<text x="-72.91" y="0" font-size="87.40" font-weight="bold" fill="#000">500</text>
</g>
<g transform="translate(677.00 1716.30)">
<text x="0" y="0" font-size="88.40" font-weight="bold" fill="#000">Wavenumber (cm<tspan font-size="55.00" dx="1" dy="-36.50">−1</tspan><tspan dy="36.50">)</tspan></text>
<rect x="772.44" y="-43.41" width="10.37" height="8.21" fill="#fff"/>
<rect x="790.36" y="-43.41" width="9.67" height="8.21" fill="#fff"/>
</g>
<g transform="translate(101.50 1094.66) rotate(-90.00)">
<text x="0.00" y="0" font-size="88.00" font-weight="bold" fill="#000">Transmittance</text>
</g>
<g transform="translate(424.40 463.80) scale(1.0000 1.0160)">
<text x="0.00" y="0" font-size="78.20" font-weight="normal" fill="#000" stroke="#000" stroke-width="2.70" stroke-linejoin="round">3386</text>
</g>
<g transform="translate(1192.60 292.70) scale(1.0000 1.0450)">
<text x="0.00" y="0" font-size="78.50" font-weight="bold" fill="#000">1735</text>
<rect x="3.94" y="-9.31" width="14.38" height="10.61" fill="#fff"/>
<rect x="29.09" y="-9.31" width="13.38" height="10.61" fill="#fff"/>
</g>
<g transform="translate(1460.30 382.10) scale(1.0000 1.0450)">
<text x="0.00" y="0" font-size="78.50" font-weight="bold" fill="#000">1223</text>
<rect x="3.94" y="-9.31" width="14.38" height="10.61" fill="#fff"/>
<rect x="29.09" y="-9.31" width="13.38" height="10.61" fill="#fff"/>
</g>
<g transform="translate(1655.70 393.80) scale(1.0000 1.0450)">
<text x="0.00" y="0" font-size="78.50" font-weight="bold" fill="#000">1050</text>
<rect x="3.94" y="-9.31" width="14.38" height="10.61" fill="#fff"/>
<rect x="29.09" y="-9.31" width="13.38" height="10.61" fill="#fff"/>
</g>
<g transform="translate(1871.50 1006.00) scale(1.0000 1.0160)">
<text x="0.00" y="0" font-size="77.80" font-weight="normal" fill="#ff00ff" stroke="#ff00ff" stroke-width="2.70" stroke-linejoin="round">583</text>
</g>
<g transform="translate(1452.30 1150.20) scale(1.0000 1.0450)">
<text x="0.00" y="0" font-size="78.50" font-weight="bold" fill="#1c6fe0">1444</text>
<rect x="3.94" y="-9.31" width="14.38" height="10.61" fill="#fff"/>
<rect x="29.09" y="-9.31" width="13.38" height="10.61" fill="#fff"/>
</g>
<g transform="translate(1407.00 1256.80) scale(1.0000 1.0450)">
<text x="0.00" y="0" font-size="78.50" font-weight="bold" fill="#1c6fe0">1512</text>
<rect x="3.94" y="-9.31" width="14.38" height="10.61" fill="#fff"/>
<rect x="29.09" y="-9.31" width="13.38" height="10.61" fill="#fff"/>
<rect x="91.26" y="-9.31" width="14.38" height="10.61" fill="#fff"/>
<rect x="116.41" y="-9.31" width="13.38" height="10.61" fill="#fff"/>
</g>
<g transform="translate(1284.00 1364.00) scale(1.0000 1.0450)">
<text x="0.00" y="0" font-size="78.50" font-weight="bold" fill="#1c6fe0">1627</text>
<rect x="3.94" y="-9.31" width="14.38" height="10.61" fill="#fff"/>
<rect x="29.09" y="-9.31" width="13.38" height="10.61" fill="#fff"/>
</g>
<g transform="translate(1680.90 1335.80) scale(1.0000 1.0450)">
<text x="0.00" y="0" font-size="78.50" font-weight="bold" fill="#1c6fe0">1048</text>
<rect x="3.94" y="-9.31" width="14.38" height="10.61" fill="#fff"/>
<rect x="29.09" y="-9.31" width="13.38" height="10.61" fill="#fff"/>
</g>
<g transform="translate(759.40 263.40) rotate(-9.61) scale(1.0000 1.0650)">
<text x="0.00" y="0" font-size="79.06" font-weight="bold" fill="#000">(a) GO</text>
</g>
<g transform="translate(821.20 473.60) rotate(-7.87) scale(1.0000 1.0650)">
<text x="0.00" y="0" font-size="79.09" font-weight="bold" fill="#ff00ff">(b) MGO</text>
</g>
<g transform="translate(816.60 1182.20) rotate(-37.86) scale(1.0000 1.0650)">
<text x="0.00" y="0" font-size="79.03" font-weight="bold" fill="#1c6fe0">(c) MGO-PLD</text>
</g>
<g stroke="#3b80e0" stroke-width="1.7" fill="#1c6fe0">
<line x1="1445.6" y1="1084" x2="1452.5" y2="1127"/>
<polygon points="1441,1127.3 1463.2,1124.5 1458.5,1168" stroke="none"/>
<line x1="1382.8" y1="1230.8" x2="1379" y2="1253"/>
<polygon points="1368.9,1251 1390.5,1254 1373.5,1295.5" stroke="none"/>
</g>
</svg></body></html>
